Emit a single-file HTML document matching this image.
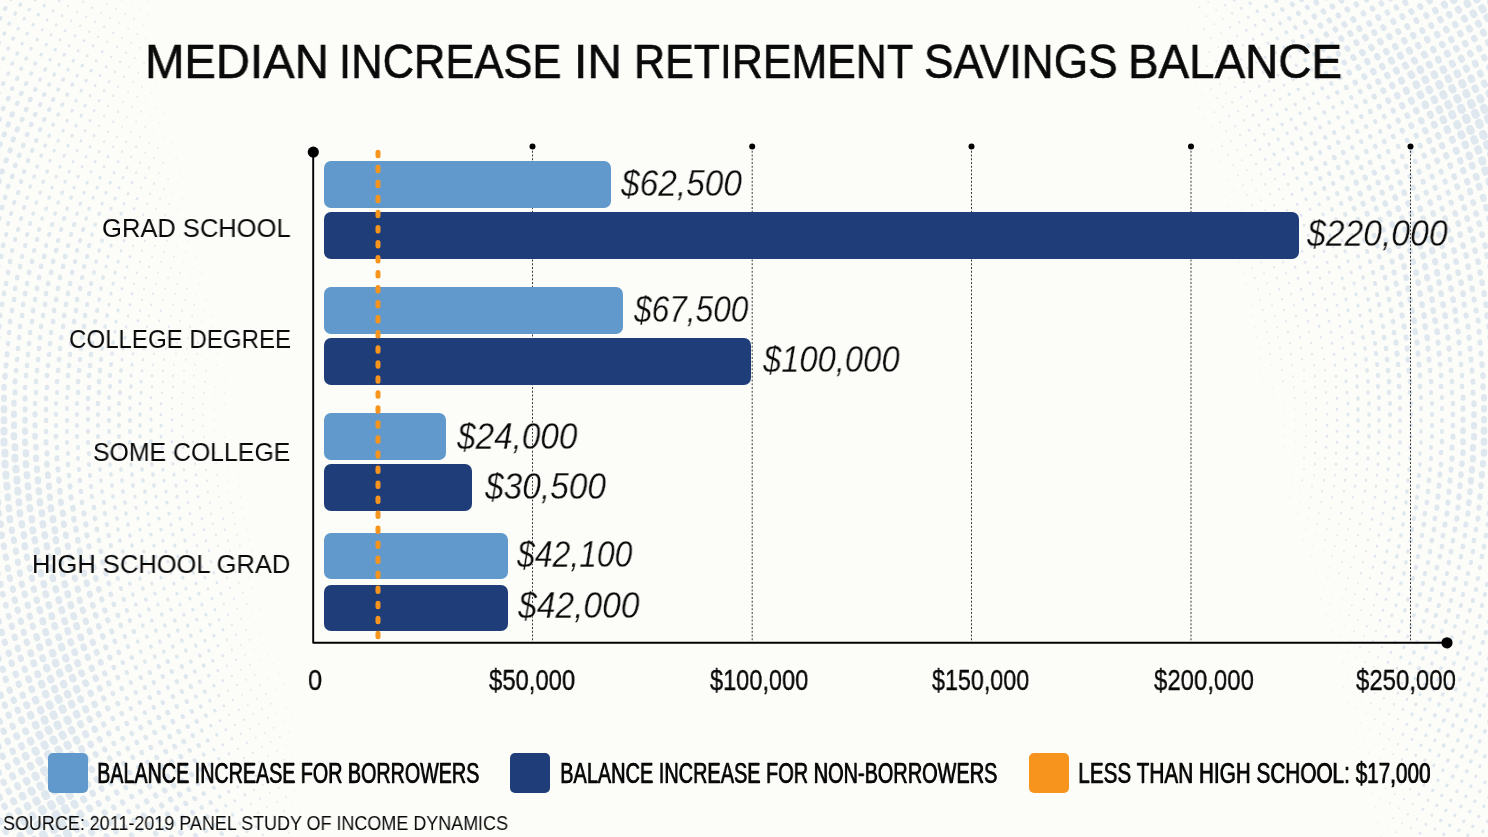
<!DOCTYPE html>
<html><head><meta charset="utf-8"><style>
*{margin:0;padding:0;box-sizing:border-box}
html,body{width:1488px;height:837px;overflow:hidden;background:#fcfcf9}
body{position:relative;font-family:"Liberation Sans",sans-serif;color:#0a0a0a}
.t{position:absolute;white-space:nowrap;line-height:1;transform-origin:0 0;will-change:transform}
.bar{position:absolute;border-radius:7px}
.l{background:#6199cd}
.d{background:#1f3e79}
.sq{position:absolute;width:40px;height:40px;border-radius:5px;top:753px}
</style></head>
<body>
<div id="bg"><svg width="1488" height="837" style="position:absolute;left:0;top:0"><g fill="none" stroke="#dfe7ef" stroke-linecap="round"><path stroke-width="1.0" d="M258 572l-0.1 -0.2M255 562l-0.1 -0.2M252 551l-0.1 -0.2M249 540l-0.1 -0.2M247 530l-0.1 -0.2M244 519l-0.0 -0.2M242 508l-0.0 -0.2M241 497l-0.0 -0.2M239 486l-0.0 -0.2M238 475l-0.0 -0.2M264 619l-0.1 -0.2M260 609l-0.1 -0.2M256 598l-0.1 -0.2M252 588l-0.1 -0.2M249 578l-0.1 -0.2M229 492l-0.0 -0.2M228 481l-0.0 -0.2M227 470l-0.0 -0.2M226 459l-0.0 -0.2M225 448l-0.0 -0.2M225 437l-0.0 -0.2M224 426l-0.0 -0.2M224 415l0.0 -0.2M225 404l0.0 -0.2M225 393l0.0 -0.2M226 382l0.0 -0.2M1228 231l0.1 0.2M1232 242l0.1 0.2M1236 252l0.1 0.2M1239 262l0.1 0.2M1243 273l0.1 0.2M1246 284l0.1 0.2M1248 294l0.1 0.2M1251 305l0.1 0.2M1253 316l0.1 0.2M1255 327l0.0 0.2M1257 337l0.0 0.2M1259 348l0.0 0.2M1260 359l0.0 0.2M1261 370l0.0 0.2M1262 381l0.0 0.2M284 684l-0.1 -0.2M279 674l-0.1 -0.2M273 664l-0.1 -0.2M268 654l-0.1 -0.2M264 644l-0.1 -0.2M259 634l-0.1 -0.2M255 624l-0.1 -0.2M251 614l-0.1 -0.2M214 442l-0.0 -0.2M214 431l-0.0 -0.2M214 420l-0.0 -0.2M214 409l0.0 -0.2M214 398l0.0 -0.2M215 387l0.0 -0.2M216 376l0.0 -0.2M217 365l0.0 -0.2M218 354l0.0 -0.2M219 343l0.0 -0.2M1224 196l0.1 0.2M1229 206l0.1 0.2M1233 216l0.1 0.2M1237 226l0.1 0.2M1241 236l0.1 0.2M1271 365l0.0 0.2M1272 376l0.0 0.2M1273 387l0.0 0.2M1274 398l0.0 0.2M1285 425l-0.0 0.2M1285 436l-0.0 0.2M1284 447l-0.0 0.2M292 717l-0.1 -0.2M286 708l-0.1 -0.2M280 698l-0.1 -0.2M275 689l-0.1 -0.2M269 679l-0.1 -0.2M264 670l-0.1 -0.2M259 660l-0.1 -0.2M254 650l-0.1 -0.2M207 360l0.0 -0.2M208 349l0.0 -0.2M210 338l0.0 -0.2M211 327l0.0 -0.2M213 316l0.0 -0.2M1208 142l0.1 0.2M1213 151l0.1 0.2M1219 161l0.1 0.2M1224 170l0.1 0.2M1229 180l0.1 0.2M1234 190l0.1 0.2M1238 200l0.1 0.2M1242 210l0.1 0.2M1284 392l0.0 0.2M1284 403l0.0 0.2M1285 414l0.0 0.2M1295 420l-0.0 0.2M1295 431l-0.0 0.2M1295 442l-0.0 0.2M1294 453l-0.0 0.2M1293 464l-0.0 0.2M1293 475l-0.0 0.2M1291 486l-0.0 0.2M1290 497l-0.0 0.2M296 741l-0.1 -0.2M289 732l-0.1 -0.2M283 722l-0.1 -0.2M277 713l-0.1 -0.2M202 321l0.0 -0.2M204 311l0.0 -0.2M206 300l0.1 -0.2M1199 108l0.1 0.2M1205 118l0.1 0.2M1211 127l0.1 0.2M1217 136l0.1 0.2M1295 409l0.0 0.2M1301 491l-0.0 0.2M1300 502l-0.0 0.2M1298 513l-0.0 0.2M300 764l-0.2 -0.2M293 755l-0.1 -0.2M286 746l-0.1 -0.2M196 294l0.1 -0.2M199 284l0.1 -0.2M202 273l0.1 -0.2M1195 85l0.1 0.2M1202 94l0.1 0.2M1208 103l0.1 0.2M1308 519l-0.0 0.2M1306 529l-0.0 0.2M1303 540l-0.1 0.2M297 778l-0.2 -0.2M290 769l-0.2 -0.2M190 278l0.1 -0.2M192 268l0.1 -0.2M195 257l0.1 -0.2M1191 62l0.2 0.2M1198 71l0.2 0.2M1204 80l0.1 0.2M1315 535l-0.0 0.2M1313 546l-0.1 0.2M1311 556l-0.1 0.2M302 800l-0.2 -0.2M295 791l-0.2 -0.2M288 783l-0.2 -0.2M183 262l0.1 -0.2M186 252l0.1 -0.2M189 241l0.1 -0.2M1186 40l0.2 0.2M1193 49l0.2 0.2M1200 57l0.2 0.2M1323 551l-0.1 0.2M1320 562l-0.1 0.2M1317 573l-0.1 0.2M300 813l-0.2 -0.2M293 805l-0.2 -0.2M177 246l0.1 -0.2M180 236l0.1 -0.2M184 225l0.1 -0.2M1181 18l0.2 0.2M1188 27l0.2 0.2M1195 35l0.2 0.2M1202 43l0.2 0.2M1330 567l-0.1 0.2M1327 578l-0.1 0.2M1324 589l-0.1 0.2M1321 599l-0.1 0.2M306 835l-0.2 -0.2M298 827l-0.2 -0.2M291 819l-0.2 -0.2M171 230l0.1 -0.2M174 220l0.1 -0.2M178 210l0.1 -0.2M182 199l0.1 -0.2M1175 -3l0.2 0.2M1182 5l0.2 0.2M1190 13l0.2 0.2M1197 21l0.2 0.2M1336 583l-0.1 0.2M1333 594l-0.1 0.2M1330 604l-0.1 0.2M1326 615l-0.1 0.2M296 841l-0.2 -0.2M173 194l0.1 -0.2M177 184l0.1 -0.2M181 174l0.1 -0.2M1192 -1l0.2 0.2M1342 599l-0.1 0.2M1339 610l-0.1 0.2M1336 620l-0.1 0.2M1332 631l-0.1 0.2M172 168l0.1 -0.2M177 158l0.1 -0.2M1345 626l-0.1 0.2M1341 636l-0.1 0.2M1338 646l-0.1 0.2M168 153l0.1 -0.2M172 143l0.1 -0.2M1351 641l-0.1 0.2M1347 652l-0.1 0.2M1343 662l-0.1 0.2M163 138l0.1 -0.2M168 128l0.1 -0.2M1356 657l-0.1 0.2M1352 667l-0.1 0.2M1348 677l-0.1 0.2M1343 687l-0.1 0.2M154 133l0.1 -0.2M159 123l0.1 -0.2M164 113l0.1 -0.2M1357 683l-0.1 0.2M1352 693l-0.1 0.2M1348 703l-0.1 0.2M150 117l0.1 -0.2M155 108l0.1 -0.2M160 98l0.1 -0.2M1362 698l-0.1 0.2M1357 708l-0.1 0.2M1352 718l-0.1 0.2M146 102l0.1 -0.2M151 93l0.1 -0.2M157 83l0.1 -0.2M1366 713l-0.1 0.2M1361 723l-0.1 0.2M1356 733l-0.1 0.2M147 78l0.1 -0.2M153 68l0.1 -0.2M159 59l0.1 -0.2M1370 729l-0.1 0.2M1365 738l-0.1 0.2M1360 748l-0.1 0.2M150 54l0.1 -0.2M155 44l0.1 -0.2M1375 744l-0.1 0.2M1369 753l-0.1 0.2M1364 763l-0.1 0.2M146 39l0.1 -0.2M152 30l0.1 -0.2M1379 759l-0.1 0.2M1373 768l-0.1 0.2M1368 778l-0.1 0.2M143 25l0.1 -0.2M149 15l0.1 -0.2M1382 774l-0.1 0.2M1377 783l-0.1 0.2M1371 793l-0.1 0.2M140 10l0.1 -0.2M147 1l0.1 -0.2M1380 798l-0.1 0.2M1375 807l-0.1 0.2M131 5l0.1 -0.2M137 -4l0.1 -0.2M1384 813l-0.1 0.2M1378 822l-0.1 0.2M1387 827l-0.1 0.2M1381 837l-0.1 0.2M1390 842l-0.1 0.2"/><path stroke-width="1.5" d="M245 567l-0.1 -0.4M242 556l-0.1 -0.4M240 546l-0.1 -0.4M237 535l-0.1 -0.4M235 524l-0.1 -0.4M233 513l-0.1 -0.4M231 503l-0.1 -0.4M247 604l-0.1 -0.4M243 593l-0.1 -0.4M239 583l-0.1 -0.4M236 572l-0.1 -0.4M233 562l-0.1 -0.4M230 551l-0.1 -0.4M221 508l-0.1 -0.4M219 497l-0.1 -0.4M218 486l-0.0 -0.4M217 475l-0.0 -0.4M216 464l-0.0 -0.4M215 453l-0.0 -0.4M1245 247l0.1 0.4M1249 257l0.1 0.4M1252 268l0.1 0.4M1255 278l0.1 0.4M1258 289l0.1 0.4M1260 300l0.1 0.4M1263 310l0.1 0.4M1265 321l0.1 0.4M1267 332l0.1 0.4M1269 343l0.1 0.4M1270 354l0.0 0.4M250 640l-0.2 -0.3M246 630l-0.1 -0.3M241 619l-0.1 -0.3M237 609l-0.1 -0.4M205 459l-0.0 -0.4M204 448l-0.0 -0.4M204 437l-0.0 -0.4M203 426l-0.0 -0.4M203 415l0.0 -0.4M203 404l0.0 -0.4M204 393l0.0 -0.4M205 382l0.0 -0.4M206 371l0.0 -0.4M1247 221l0.1 0.3M1251 231l0.1 0.4M1254 241l0.1 0.4M1258 252l0.1 0.4M1261 262l0.1 0.4M1264 273l0.1 0.4M1267 283l0.1 0.4M1270 294l0.1 0.4M1272 305l0.1 0.4M1275 316l0.1 0.4M1277 327l0.1 0.4M1278 337l0.1 0.4M1280 348l0.0 0.4M1281 359l0.0 0.4M1282 370l0.0 0.4M1283 381l0.0 0.4M271 704l-0.2 -0.3M266 694l-0.2 -0.3M260 685l-0.2 -0.3M255 675l-0.2 -0.3M250 665l-0.2 -0.3M245 655l-0.2 -0.3M241 645l-0.2 -0.3M193 431l-0.0 -0.4M193 420l-0.0 -0.4M193 409l0.0 -0.4M193 398l0.0 -0.4M194 387l0.0 -0.4M194 376l0.0 -0.4M195 365l0.0 -0.4M197 354l0.0 -0.4M198 343l0.1 -0.4M200 332l0.1 -0.4M1222 146l0.2 0.3M1228 155l0.2 0.3M1233 165l0.2 0.3M1238 175l0.2 0.3M1243 185l0.2 0.3M1247 195l0.2 0.3M1252 205l0.1 0.3M1256 215l0.1 0.3M1260 226l0.1 0.4M1264 236l0.1 0.4M1292 365l0.0 0.4M1293 376l0.0 0.4M1294 387l0.0 0.4M1295 398l0.0 0.4M1306 425l-0.0 0.4M1306 436l-0.0 0.4M1305 447l-0.0 0.4M1304 458l-0.0 0.4M1304 469l-0.0 0.4M1302 480l-0.0 0.4M280 737l-0.2 -0.3M274 728l-0.2 -0.3M268 718l-0.2 -0.3M262 709l-0.2 -0.3M257 699l-0.2 -0.3M251 690l-0.2 -0.3M246 680l-0.2 -0.3M241 670l-0.2 -0.3M182 404l0.0 -0.4M183 393l0.0 -0.4M184 382l0.0 -0.4M184 371l0.0 -0.4M186 360l0.0 -0.4M187 349l0.0 -0.4M188 338l0.1 -0.4M190 327l0.1 -0.4M192 316l0.1 -0.4M194 305l0.1 -0.4M1214 112l0.2 0.3M1220 122l0.2 0.3M1226 131l0.2 0.3M1231 141l0.2 0.3M1237 150l0.2 0.3M1242 160l0.2 0.3M1247 170l0.2 0.3M1252 180l0.2 0.3M1256 190l0.2 0.3M1261 200l0.1 0.3M1265 210l0.1 0.3M1304 370l0.0 0.4M1304 381l0.0 0.4M1305 392l0.0 0.4M1306 403l0.0 0.4M1306 414l0.0 0.4M1314 475l-0.0 0.4M1312 486l-0.0 0.4M1311 497l-0.1 0.4M1309 508l-0.1 0.4M284 760l-0.2 -0.3M277 751l-0.2 -0.3M271 742l-0.2 -0.3M265 733l-0.2 -0.3M259 724l-0.2 -0.3M253 714l-0.2 -0.3M248 705l-0.2 -0.3M242 695l-0.2 -0.3M174 365l0.0 -0.4M176 354l0.0 -0.4M177 343l0.1 -0.4M179 332l0.1 -0.4M180 321l0.1 -0.4M182 311l0.1 -0.4M185 300l0.1 -0.4M187 289l0.1 -0.4M1211 89l0.2 0.3M1217 98l0.2 0.3M1223 107l0.2 0.3M1321 502l-0.1 0.4M1319 513l-0.1 0.4M1317 524l-0.1 0.4M281 774l-0.2 -0.3M275 765l-0.2 -0.3M268 756l-0.2 -0.3M262 747l-0.2 -0.3M256 738l-0.2 -0.3M250 729l-0.2 -0.3M171 316l0.1 -0.4M173 305l0.1 -0.4M175 294l0.1 -0.4M177 284l0.1 -0.4M180 273l0.1 -0.4M1207 66l0.2 0.3M1213 75l0.2 0.3M1220 84l0.2 0.3M1226 93l0.2 0.3M1331 508l-0.1 0.4M1329 519l-0.1 0.4M1327 529l-0.1 0.4M1325 540l-0.1 0.4M286 797l-0.2 -0.3M279 788l-0.2 -0.3M272 779l-0.2 -0.3M265 771l-0.2 -0.3M259 762l-0.2 -0.3M163 300l0.1 -0.4M165 289l0.1 -0.4M168 278l0.1 -0.4M171 268l0.1 -0.4M174 257l0.1 -0.4M1209 52l0.2 0.3M1216 61l0.2 0.3M1223 69l0.2 0.3M1229 78l0.2 0.3M1339 524l-0.1 0.4M1337 535l-0.1 0.4M1335 546l-0.1 0.4M1332 556l-0.1 0.4M284 811l-0.2 -0.3M277 802l-0.2 -0.3M270 793l-0.2 -0.3M263 785l-0.2 -0.3M156 284l0.1 -0.4M158 273l0.1 -0.4M161 262l0.1 -0.4M164 252l0.1 -0.4M167 241l0.1 -0.4M1204 29l0.2 0.3M1211 38l0.2 0.3M1218 47l0.2 0.3M1225 55l0.2 0.3M1348 529l-0.1 0.4M1346 540l-0.1 0.4M1344 551l-0.1 0.4M1342 562l-0.1 0.4M1339 573l-0.1 0.4M289 833l-0.3 -0.3M282 824l-0.2 -0.3M274 816l-0.2 -0.3M267 807l-0.2 -0.3M152 257l0.1 -0.4M155 246l0.1 -0.4M158 236l0.1 -0.4M161 225l0.1 -0.4M165 215l0.1 -0.4M169 204l0.1 -0.4M1199 7l0.3 0.3M1206 16l0.2 0.3M1214 24l0.2 0.3M1221 33l0.2 0.3M1228 41l0.2 0.3M1354 557l-0.1 0.4M1351 567l-0.1 0.4M1348 578l-0.1 0.4M1346 589l-0.1 0.4M280 838l-0.3 -0.3M152 220l0.1 -0.4M156 209l0.1 -0.4M160 199l0.1 -0.4M164 189l0.1 -0.3M168 179l0.1 -0.3M1201 -6l0.3 0.3M1208 2l0.3 0.3M1216 10l0.2 0.3M1223 19l0.2 0.3M1358 583l-0.1 0.4M1355 594l-0.1 0.4M1352 605l-0.1 0.4M1349 615l-0.1 0.4M159 173l0.1 -0.3M163 163l0.2 -0.3M1361 610l-0.1 0.4M1358 620l-0.1 0.4M1354 631l-0.1 0.4M154 158l0.2 -0.3M158 148l0.2 -0.3M1364 636l-0.1 0.4M1360 647l-0.1 0.4M145 153l0.2 -0.3M149 143l0.2 -0.3M1369 652l-0.1 0.4M1365 662l-0.1 0.3M1361 672l-0.1 0.3M140 137l0.2 -0.3M145 127l0.2 -0.3M1374 667l-0.1 0.3M1370 678l-0.1 0.3M1366 688l-0.1 0.3M131 132l0.2 -0.3M136 122l0.2 -0.3M141 112l0.2 -0.3M1375 693l-0.1 0.3M1371 703l-0.2 0.3M122 127l0.2 -0.3M127 117l0.2 -0.3M132 107l0.2 -0.3M137 97l0.2 -0.3M142 87l0.2 -0.3M1380 709l-0.2 0.3M1375 719l-0.2 0.3M123 102l0.2 -0.3M128 92l0.2 -0.3M133 82l0.2 -0.3M138 73l0.2 -0.3M144 63l0.2 -0.3M1384 724l-0.2 0.3M1380 734l-0.2 0.3M129 67l0.2 -0.3M135 58l0.2 -0.3M140 48l0.2 -0.3M1389 739l-0.2 0.3M1384 749l-0.2 0.3M131 43l0.2 -0.3M137 34l0.2 -0.3M1393 754l-0.2 0.3M1388 764l-0.2 0.3M122 38l0.2 -0.3M128 29l0.2 -0.3M134 19l0.2 -0.3M1391 779l-0.2 0.3M1386 788l-0.2 0.3M119 23l0.2 -0.3M125 14l0.2 -0.3M1395 794l-0.2 0.3M1390 803l-0.2 0.3M110 18l0.2 -0.3M116 9l0.2 -0.3M122 -0l0.2 -0.3M1399 808l-0.2 0.3M1393 818l-0.2 0.3M101 13l0.2 -0.3M107 4l0.2 -0.3M113 -6l0.2 -0.3M1402 823l-0.2 0.3M1396 832l-0.2 0.3M98 -2l0.2 -0.3M1405 838l-0.2 0.3"/><path stroke-width="2.0" d="M228 541l-0.1 -0.5M225 530l-0.1 -0.5M223 519l-0.1 -0.5M234 599l-0.2 -0.5M230 588l-0.2 -0.5M227 578l-0.1 -0.5M224 567l-0.1 -0.5M221 557l-0.1 -0.5M218 546l-0.1 -0.5M216 535l-0.1 -0.5M213 524l-0.1 -0.5M211 514l-0.1 -0.5M210 503l-0.1 -0.5M208 492l-0.1 -0.5M207 481l-0.1 -0.5M206 470l-0.0 -0.5M236 635l-0.2 -0.5M232 625l-0.2 -0.5M228 615l-0.2 -0.5M224 604l-0.2 -0.5M195 464l-0.0 -0.5M194 453l-0.0 -0.5M193 442l-0.0 -0.5M1267 246l0.2 0.5M1271 257l0.1 0.5M1274 267l0.1 0.5M1277 278l0.1 0.5M1279 289l0.1 0.5M1282 299l0.1 0.5M1284 310l0.1 0.5M1286 321l0.1 0.5M1288 332l0.1 0.5M1290 343l0.1 0.5M1291 354l0.1 0.5M236 660l-0.2 -0.5M232 650l-0.2 -0.5M227 640l-0.2 -0.5M183 437l-0.0 -0.5M182 426l-0.0 -0.5M182 415l0.0 -0.5M1269 220l0.2 0.5M1273 231l0.2 0.5M1276 241l0.2 0.5M1280 251l0.1 0.5M1283 262l0.1 0.5M1286 273l0.1 0.5M1289 283l0.1 0.5M1291 294l0.1 0.5M1294 305l0.1 0.5M1296 316l0.1 0.5M1298 326l0.1 0.5M1300 337l0.1 0.5M1301 348l0.1 0.5M1302 359l0.1 0.5M1316 420l-0.0 0.5M1316 431l-0.0 0.5M1316 442l-0.0 0.5M1315 453l-0.0 0.5M1315 464l-0.0 0.5M237 685l-0.2 -0.4M232 676l-0.2 -0.4M227 666l-0.2 -0.5M172 409l0.0 -0.5M172 398l0.0 -0.5M173 387l0.0 -0.5M173 376l0.0 -0.5M1229 116l0.3 0.4M1235 126l0.3 0.4M1240 135l0.2 0.4M1246 145l0.2 0.4M1251 155l0.2 0.4M1256 164l0.2 0.4M1261 174l0.2 0.5M1265 184l0.2 0.5M1270 194l0.2 0.5M1274 205l0.2 0.5M1278 215l0.2 0.5M1282 225l0.2 0.5M1286 236l0.2 0.5M1289 246l0.2 0.5M1292 257l0.1 0.5M1309 332l0.1 0.5M1311 343l0.1 0.5M1312 354l0.1 0.5M1314 365l0.0 0.5M1315 376l0.0 0.5M1315 387l0.0 0.5M1316 398l0.0 0.5M1316 409l0.0 0.5M1325 458l-0.0 0.5M1325 469l-0.0 0.5M1324 480l-0.1 0.5M1322 491l-0.1 0.5M244 720l-0.3 -0.4M239 710l-0.2 -0.4M233 700l-0.2 -0.4M228 691l-0.2 -0.4M162 393l0.0 -0.5M163 382l0.0 -0.5M163 371l0.0 -0.5M164 360l0.1 -0.5M166 349l0.1 -0.5M167 338l0.1 -0.5M169 327l0.1 -0.5M1232 102l0.3 0.4M1238 111l0.3 0.4M1244 120l0.3 0.4M1275 179l0.2 0.5M1279 189l0.2 0.5M1283 199l0.2 0.5M1287 210l0.2 0.5M1291 220l0.2 0.5M1295 230l0.2 0.5M1321 337l0.1 0.5M1322 348l0.1 0.5M1324 359l0.1 0.5M1325 370l0.0 0.5M1325 381l0.0 0.5M1326 392l0.0 0.5M1327 403l0.0 0.5M1327 414l0.0 0.5M1335 475l-0.0 0.5M1334 486l-0.1 0.5M1332 497l-0.1 0.5M253 753l-0.3 -0.4M247 743l-0.3 -0.4M241 734l-0.3 -0.4M235 725l-0.3 -0.4M229 715l-0.2 -0.4M153 365l0.0 -0.5M154 354l0.1 -0.5M156 343l0.1 -0.5M157 332l0.1 -0.5M159 321l0.1 -0.5M161 311l0.1 -0.5M1235 87l0.3 0.4M1241 97l0.3 0.4M1247 106l0.3 0.4M1344 491l-0.1 0.5M1342 502l-0.1 0.5M1341 513l-0.1 0.5M256 776l-0.3 -0.4M250 767l-0.3 -0.4M244 758l-0.3 -0.4M238 749l-0.3 -0.4M146 338l0.1 -0.5M147 327l0.1 -0.5M149 316l0.1 -0.5M151 305l0.1 -0.5M153 294l0.1 -0.5M1232 64l0.3 0.4M1238 73l0.3 0.4M1244 82l0.3 0.4M1250 91l0.3 0.4M1353 497l-0.1 0.5M1352 508l-0.1 0.5M1350 519l-0.1 0.5M260 799l-0.3 -0.4M254 790l-0.3 -0.4M247 781l-0.3 -0.4M241 772l-0.3 -0.4M140 311l0.1 -0.5M142 300l0.1 -0.5M144 289l0.1 -0.5M146 278l0.1 -0.5M149 267l0.1 -0.5M1234 50l0.3 0.4M1241 59l0.3 0.4M1247 68l0.3 0.4M1253 77l0.3 0.4M1363 502l-0.1 0.5M1362 513l-0.1 0.5M1360 524l-0.1 0.5M1358 535l-0.1 0.5M1356 546l-0.1 0.5M272 830l-0.3 -0.4M265 821l-0.3 -0.4M258 813l-0.3 -0.4M251 804l-0.3 -0.4M134 284l0.1 -0.5M137 273l0.1 -0.5M140 262l0.1 -0.5M142 251l0.1 -0.5M145 241l0.1 -0.5M149 230l0.2 -0.5M1230 27l0.3 0.4M1237 36l0.3 0.4M1243 45l0.3 0.4M1250 53l0.3 0.4M1256 62l0.3 0.4M1370 529l-0.1 0.5M1368 540l-0.1 0.5M1366 551l-0.1 0.5M1363 562l-0.1 0.5M1361 573l-0.1 0.5M263 835l-0.3 -0.4M133 246l0.1 -0.5M136 236l0.1 -0.5M139 225l0.2 -0.5M143 215l0.2 -0.5M147 204l0.2 -0.5M150 194l0.2 -0.5M154 184l0.2 -0.5M1218 -3l0.3 0.4M1225 5l0.3 0.4M1232 13l0.3 0.4M1239 22l0.3 0.4M1370 578l-0.1 0.5M1367 589l-0.1 0.5M1364 599l-0.1 0.5M141 188l0.2 -0.5M145 178l0.2 -0.5M149 168l0.2 -0.5M1374 605l-0.1 0.5M1371 615l-0.1 0.5M1367 626l-0.2 0.5M136 173l0.2 -0.5M140 163l0.2 -0.5M1376 631l-0.2 0.5M1373 641l-0.2 0.5M131 157l0.2 -0.5M136 147l0.2 -0.5M1382 647l-0.2 0.5M1378 657l-0.2 0.5M122 152l0.2 -0.5M126 142l0.2 -0.5M1384 673l-0.2 0.5M1379 683l-0.2 0.5M113 147l0.2 -0.5M117 137l0.2 -0.5M1389 688l-0.2 0.5M1384 698l-0.2 0.5M104 142l0.2 -0.5M108 132l0.2 -0.5M113 122l0.2 -0.5M118 112l0.2 -0.4M1394 704l-0.2 0.5M1389 714l-0.2 0.5M99 126l0.2 -0.5M104 116l0.2 -0.5M108 106l0.2 -0.4M113 96l0.2 -0.4M118 87l0.2 -0.4M124 77l0.2 -0.4M1398 719l-0.2 0.5M1393 729l-0.2 0.5M115 72l0.2 -0.4M120 62l0.2 -0.4M126 53l0.3 -0.4M1398 744l-0.2 0.4M111 57l0.2 -0.4M117 47l0.3 -0.4M1402 759l-0.2 0.4M1397 769l-0.2 0.4M107 42l0.3 -0.4M113 33l0.3 -0.4M1406 774l-0.2 0.4M1401 784l-0.2 0.4M98 37l0.3 -0.4M104 27l0.3 -0.4M1410 789l-0.2 0.4M1404 799l-0.2 0.4M89 32l0.3 -0.4M95 22l0.3 -0.4M1413 804l-0.2 0.4M1408 814l-0.3 0.4M80 26l0.3 -0.4M86 17l0.3 -0.4M92 8l0.3 -0.4M1417 819l-0.3 0.4M1411 828l-0.3 0.4M71 21l0.3 -0.4M77 12l0.3 -0.4M83 2l0.3 -0.4M68 6l0.3 -0.4M73 -3l0.3 -0.4"/><path stroke-width="2.5" d="M221 594l-0.2 -0.6M217 583l-0.2 -0.6M214 573l-0.2 -0.6M211 562l-0.2 -0.6M209 551l-0.1 -0.6M206 541l-0.1 -0.6M204 530l-0.1 -0.6M202 519l-0.1 -0.6M200 508l-0.1 -0.6M198 497l-0.1 -0.6M197 486l-0.1 -0.6M196 475l-0.1 -0.6M223 630l-0.2 -0.6M219 620l-0.2 -0.6M215 610l-0.2 -0.6M212 599l-0.2 -0.6M208 589l-0.2 -0.6M205 578l-0.2 -0.6M202 567l-0.2 -0.6M199 557l-0.2 -0.6M197 546l-0.1 -0.6M194 535l-0.1 -0.6M192 524l-0.1 -0.6M190 514l-0.1 -0.6M188 503l-0.1 -0.6M187 492l-0.1 -0.6M186 481l-0.1 -0.6M184 470l-0.1 -0.6M184 459l-0.0 -0.6M183 448l-0.0 -0.6M223 656l-0.3 -0.6M218 646l-0.2 -0.6M172 442l-0.0 -0.6M172 431l-0.0 -0.6M172 420l-0.0 -0.6M1295 267l0.2 0.6M1298 278l0.2 0.6M1301 289l0.1 0.6M1303 299l0.1 0.6M1306 310l0.1 0.6M1308 321l0.1 0.6M1327 425l-0.0 0.6M1327 436l-0.0 0.6M1326 447l-0.0 0.6M223 681l-0.3 -0.6M218 671l-0.3 -0.6M161 415l0.0 -0.6M161 404l0.0 -0.6M1249 130l0.3 0.5M1255 140l0.3 0.5M1260 149l0.3 0.6M1265 159l0.3 0.6M1270 169l0.3 0.6M1298 241l0.2 0.6M1302 251l0.2 0.6M1305 262l0.2 0.6M1308 272l0.2 0.6M1310 283l0.1 0.6M1313 294l0.1 0.6M1315 305l0.1 0.6M1317 315l0.1 0.6M1319 326l0.1 0.6M1337 420l-0.0 0.6M1337 431l-0.0 0.6M1337 442l-0.0 0.6M1336 453l-0.0 0.6M1336 464l-0.0 0.6M224 706l-0.3 -0.5M219 696l-0.3 -0.6M151 398l0.0 -0.6M152 387l0.0 -0.6M152 376l0.0 -0.6M1253 115l0.3 0.5M1259 125l0.3 0.5M1264 134l0.3 0.5M1284 174l0.3 0.6M1288 184l0.2 0.6M1292 194l0.2 0.6M1297 204l0.2 0.6M1301 215l0.2 0.6M1304 225l0.2 0.6M1308 235l0.2 0.6M1311 246l0.2 0.6M1314 256l0.2 0.6M1317 267l0.2 0.6M1320 278l0.1 0.6M1322 288l0.1 0.6M1325 299l0.1 0.6M1327 310l0.1 0.6M1329 321l0.1 0.6M1331 332l0.1 0.6M1332 343l0.1 0.6M1334 354l0.1 0.6M1335 365l0.1 0.6M1336 376l0.0 0.6M1336 387l0.0 0.6M1337 398l0.0 0.6M1337 409l0.0 0.6M1347 458l-0.0 0.6M1346 469l-0.1 0.6M1345 480l-0.1 0.6M232 739l-0.3 -0.5M226 730l-0.3 -0.5M220 721l-0.3 -0.5M142 371l0.1 -0.6M143 360l0.1 -0.6M144 349l0.1 -0.6M1256 101l0.3 0.5M1262 110l0.3 0.5M1268 119l0.3 0.5M1310 209l0.2 0.6M1314 220l0.2 0.6M1317 230l0.2 0.6M1320 240l0.2 0.6M1324 251l0.2 0.6M1327 262l0.2 0.6M1329 272l0.2 0.6M1332 283l0.1 0.6M1334 294l0.1 0.6M1337 305l0.1 0.6M1339 315l0.1 0.6M1340 326l0.1 0.6M1342 337l0.1 0.6M1343 348l0.1 0.6M1345 359l0.1 0.6M1346 370l0.1 0.6M1357 464l-0.0 0.6M1356 475l-0.1 0.6M1355 486l-0.1 0.6M235 763l-0.3 -0.5M229 754l-0.3 -0.5M223 745l-0.3 -0.5M133 354l0.1 -0.6M135 343l0.1 -0.6M136 332l0.1 -0.6M138 321l0.1 -0.6M1259 86l0.3 0.5M1265 95l0.3 0.5M1271 105l0.3 0.5M1367 469l-0.0 0.6M1366 480l-0.1 0.6M1365 491l-0.1 0.6M245 795l-0.4 -0.5M238 787l-0.4 -0.5M232 778l-0.4 -0.5M225 768l-0.3 -0.5M126 327l0.1 -0.6M128 316l0.1 -0.6M130 305l0.1 -0.6M132 294l0.1 -0.6M1263 72l0.3 0.5M1269 81l0.3 0.5M1274 90l0.3 0.5M1280 99l0.3 0.5M1377 475l-0.1 0.6M1376 486l-0.1 0.6M1375 497l-0.1 0.6M1373 508l-0.1 0.6M1372 519l-0.1 0.6M256 827l-0.4 -0.5M249 818l-0.4 -0.5M242 810l-0.4 -0.5M235 801l-0.4 -0.5M120 300l0.1 -0.6M122 289l0.1 -0.6M125 278l0.1 -0.6M127 267l0.2 -0.6M130 257l0.2 -0.6M1246 30l0.4 0.5M1253 39l0.4 0.5M1259 48l0.4 0.5M1265 57l0.4 0.5M1272 66l0.3 0.5M1278 75l0.3 0.5M1284 85l0.3 0.5M1387 480l-0.1 0.6M1386 491l-0.1 0.6M1385 502l-0.1 0.6M1383 513l-0.1 0.6M1381 524l-0.1 0.6M1379 535l-0.1 0.6M1377 546l-0.1 0.6M1375 556l-0.1 0.6M1373 567l-0.1 0.6M254 840l-0.4 -0.5M247 832l-0.4 -0.5M121 251l0.2 -0.6M124 241l0.2 -0.6M127 230l0.2 -0.6M130 220l0.2 -0.6M134 209l0.2 -0.6M137 199l0.2 -0.6M1234 -0l0.4 0.5M1241 8l0.4 0.5M1248 17l0.4 0.5M1255 25l0.4 0.5M1262 34l0.4 0.5M1382 573l-0.1 0.6M1380 583l-0.2 0.6M1377 594l-0.2 0.6M124 204l0.2 -0.6M128 194l0.2 -0.6M132 183l0.2 -0.6M1243 -6l0.4 0.5M1386 599l-0.2 0.6M1383 610l-0.2 0.6M1380 620l-0.2 0.6M119 188l0.2 -0.6M123 178l0.2 -0.6M127 168l0.2 -0.6M1389 626l-0.2 0.6M1386 636l-0.2 0.6M114 173l0.2 -0.6M118 162l0.2 -0.6M1391 652l-0.2 0.6M1388 662l-0.2 0.6M104 167l0.2 -0.6M108 157l0.2 -0.6M1397 668l-0.2 0.6M1393 678l-0.2 0.6M91 172l0.2 -0.6M95 162l0.2 -0.6M99 152l0.2 -0.6M1402 683l-0.2 0.6M1398 693l-0.2 0.6M82 167l0.2 -0.6M86 157l0.2 -0.6M90 147l0.2 -0.6M94 136l0.3 -0.6M1407 699l-0.2 0.6M1403 709l-0.3 0.6M73 162l0.2 -0.6M77 151l0.2 -0.6M81 141l0.2 -0.6M85 131l0.3 -0.6M90 121l0.3 -0.6M94 111l0.3 -0.6M99 101l0.3 -0.6M104 91l0.3 -0.6M109 82l0.3 -0.6M1407 724l-0.3 0.6M1403 734l-0.3 0.6M90 96l0.3 -0.6M95 86l0.3 -0.6M100 76l0.3 -0.6M106 67l0.3 -0.5M1412 739l-0.3 0.6M1407 749l-0.3 0.6M96 61l0.3 -0.5M102 52l0.3 -0.5M1416 755l-0.3 0.6M1411 764l-0.3 0.6M87 56l0.3 -0.5M93 46l0.3 -0.5M1420 770l-0.3 0.6M1415 779l-0.3 0.6M78 51l0.3 -0.5M84 41l0.3 -0.5M1424 785l-0.3 0.6M1419 794l-0.3 0.5M69 46l0.3 -0.5M75 36l0.3 -0.5M1428 800l-0.3 0.5M1423 809l-0.3 0.5M60 40l0.3 -0.5M65 31l0.3 -0.5M1432 815l-0.3 0.5M1426 824l-0.3 0.5M1420 833l-0.3 0.5M51 35l0.3 -0.5M56 25l0.3 -0.5M62 16l0.3 -0.5M1435 829l-0.3 0.5M1429 839l-0.3 0.5M42 30l0.3 -0.5M47 20l0.3 -0.5M53 11l0.3 -0.5M59 1l0.3 -0.5M49 -4l0.3 -0.5"/><path stroke-width="3.0" d="M214 636l-0.3 -0.7M210 625l-0.3 -0.7M206 615l-0.3 -0.7M202 605l-0.2 -0.7M199 594l-0.2 -0.7M196 584l-0.2 -0.7M193 573l-0.2 -0.7M190 562l-0.2 -0.7M187 552l-0.2 -0.7M185 541l-0.2 -0.7M182 530l-0.1 -0.7M180 519l-0.1 -0.7M179 508l-0.1 -0.7M177 497l-0.1 -0.7M176 486l-0.1 -0.7M174 475l-0.1 -0.7M173 464l-0.1 -0.7M173 453l-0.0 -0.7M213 661l-0.3 -0.7M209 651l-0.3 -0.7M205 641l-0.3 -0.7M201 631l-0.3 -0.7M197 620l-0.3 -0.7M193 610l-0.2 -0.7M190 599l-0.2 -0.7M186 589l-0.2 -0.7M183 578l-0.2 -0.7M180 568l-0.2 -0.7M178 557l-0.2 -0.7M175 546l-0.2 -0.7M173 535l-0.1 -0.7M171 525l-0.1 -0.7M169 514l-0.1 -0.7M167 503l-0.1 -0.7M166 492l-0.1 -0.7M164 481l-0.1 -0.7M163 470l-0.1 -0.7M163 459l-0.0 -0.7M162 448l-0.0 -0.7M161 437l-0.0 -0.7M161 426l-0.0 -0.7M214 686l-0.3 -0.7M209 676l-0.3 -0.7M184 615l-0.2 -0.7M180 605l-0.2 -0.7M177 594l-0.2 -0.7M174 584l-0.2 -0.7M171 573l-0.2 -0.7M168 562l-0.2 -0.7M166 552l-0.2 -0.7M163 541l-0.2 -0.7M161 530l-0.1 -0.7M159 519l-0.1 -0.7M157 508l-0.1 -0.7M156 497l-0.1 -0.7M151 420l-0.0 -0.8M151 409l0.0 -0.7M1269 144l0.3 0.7M1274 154l0.3 0.7M1279 164l0.3 0.7M1348 425l-0.0 0.7M1348 436l-0.0 0.7M1347 447l-0.0 0.7M215 711l-0.4 -0.7M210 701l-0.3 -0.7M171 610l-0.2 -0.7M168 600l-0.2 -0.7M164 589l-0.2 -0.7M161 578l-0.2 -0.7M159 568l-0.2 -0.7M156 557l-0.2 -0.7M154 546l-0.2 -0.7M151 535l-0.1 -0.7M149 525l-0.1 -0.7M148 514l-0.1 -0.7M146 503l-0.1 -0.7M140 404l0.0 -0.7M141 393l0.0 -0.7M141 382l0.0 -0.7M1273 129l0.4 0.7M1278 139l0.3 0.7M1283 149l0.3 0.7M1288 158l0.3 0.7M1293 168l0.3 0.7M1297 178l0.3 0.7M1302 189l0.3 0.7M1306 199l0.3 0.7M1346 381l0.0 0.7M1347 392l0.0 0.7M1348 403l0.0 0.7M1348 414l0.0 0.7M1358 431l-0.0 0.7M1358 442l-0.0 0.7M1357 453l-0.0 0.7M217 735l-0.4 -0.6M211 726l-0.4 -0.7M158 605l-0.2 -0.7M155 594l-0.2 -0.7M152 584l-0.2 -0.7M149 573l-0.2 -0.7M146 562l-0.2 -0.7M144 552l-0.2 -0.7M142 541l-0.1 -0.7M140 530l-0.1 -0.7M138 519l-0.1 -0.7M136 508l-0.1 -0.7M135 497l-0.1 -0.7M131 376l0.1 -0.7M132 365l0.1 -0.7M1277 114l0.4 0.7M1282 124l0.4 0.7M1287 133l0.3 0.7M1319 204l0.3 0.7M1323 214l0.3 0.7M1326 225l0.2 0.7M1330 235l0.2 0.7M1333 246l0.2 0.7M1336 256l0.2 0.7M1339 267l0.2 0.7M1342 278l0.2 0.7M1344 288l0.2 0.7M1346 299l0.1 0.7M1348 310l0.1 0.7M1350 321l0.1 0.7M1352 332l0.1 0.7M1353 343l0.1 0.7M1355 354l0.1 0.7M1356 365l0.1 0.7M1357 376l0.1 0.7M1368 447l-0.0 0.7M1368 458l-0.0 0.7M219 759l-0.4 -0.6M214 750l-0.4 -0.6M122 360l0.1 -0.7M123 349l0.1 -0.7M125 338l0.1 -0.7M1286 109l0.4 0.7M1291 119l0.4 0.7M1342 240l0.2 0.7M1345 251l0.2 0.7M1348 261l0.2 0.7M1351 272l0.2 0.7M1354 283l0.2 0.7M1356 294l0.2 0.7M1358 305l0.1 0.7M1360 315l0.1 0.7M1362 326l0.1 0.7M1379 442l-0.0 0.7M1378 453l-0.0 0.7M1378 464l-0.1 0.7M229 792l-0.4 -0.6M223 783l-0.4 -0.6M216 774l-0.4 -0.6M115 332l0.1 -0.7M116 322l0.1 -0.7M118 311l0.1 -0.7M1289 94l0.4 0.6M1295 104l0.4 0.7M1300 113l0.4 0.7M1389 447l-0.0 0.7M1389 458l-0.0 0.7M1388 469l-0.1 0.7M240 824l-0.5 -0.6M233 815l-0.5 -0.6M226 806l-0.4 -0.6M109 305l0.1 -0.7M111 294l0.1 -0.7M113 284l0.2 -0.7M115 273l0.2 -0.7M118 262l0.2 -0.7M1268 43l0.4 0.6M1275 52l0.4 0.6M1281 61l0.4 0.6M1287 70l0.4 0.6M1293 79l0.4 0.6M1298 89l0.4 0.6M1304 98l0.4 0.7M1309 108l0.4 0.7M1399 453l-0.0 0.7M1399 464l-0.1 0.7M1398 475l-0.1 0.7M1397 486l-0.1 0.7M1396 497l-0.1 0.7M1394 508l-0.1 0.7M1393 518l-0.1 0.7M1391 529l-0.1 0.7M1389 540l-0.1 0.7M1387 551l-0.2 0.7M1385 562l-0.2 0.7M238 837l-0.5 -0.6M106 267l0.2 -0.7M108 257l0.2 -0.7M111 246l0.2 -0.7M114 235l0.2 -0.7M117 225l0.2 -0.7M121 214l0.2 -0.7M1250 3l0.5 0.6M1257 11l0.5 0.6M1264 20l0.5 0.6M1271 29l0.4 0.6M1277 38l0.4 0.6M1284 47l0.4 0.6M1290 56l0.4 0.6M1296 65l0.4 0.6M1302 74l0.4 0.6M1307 84l0.4 0.6M1313 93l0.4 0.7M1318 103l0.4 0.7M1394 567l-0.2 0.7M1392 578l-0.2 0.7M1389 589l-0.2 0.7M108 220l0.2 -0.7M111 209l0.2 -0.7M115 199l0.2 -0.7M1399 594l-0.2 0.7M1396 605l-0.2 0.7M1392 615l-0.2 0.7M102 204l0.2 -0.7M106 193l0.3 -0.7M110 183l0.3 -0.7M1402 621l-0.2 0.7M1399 631l-0.2 0.7M1395 642l-0.2 0.7M93 198l0.2 -0.7M97 188l0.3 -0.7M100 178l0.3 -0.7M1408 636l-0.2 0.7M1404 647l-0.2 0.7M1401 657l-0.3 0.7M84 193l0.2 -0.7M87 183l0.3 -0.7M1410 663l-0.3 0.7M1406 673l-0.3 0.7M74 188l0.2 -0.7M78 177l0.3 -0.7M1415 678l-0.3 0.7M1411 689l-0.3 0.7M65 182l0.2 -0.7M69 172l0.3 -0.7M1420 694l-0.3 0.7M1416 704l-0.3 0.7M1412 714l-0.3 0.7M52 188l0.2 -0.7M56 177l0.2 -0.7M60 167l0.3 -0.7M64 156l0.3 -0.7M68 146l0.3 -0.7M72 136l0.3 -0.7M76 126l0.3 -0.7M81 116l0.3 -0.7M85 106l0.3 -0.7M1425 709l-0.3 0.7M1421 719l-0.3 0.7M1416 729l-0.3 0.7M50 161l0.3 -0.7M54 151l0.3 -0.7M58 141l0.3 -0.7M63 131l0.3 -0.7M67 121l0.3 -0.7M72 111l0.3 -0.7M76 101l0.3 -0.7M81 91l0.3 -0.7M86 81l0.3 -0.7M91 71l0.4 -0.7M1430 725l-0.3 0.7M1426 735l-0.3 0.7M1421 745l-0.3 0.7M77 76l0.3 -0.7M82 66l0.4 -0.7M1435 740l-0.3 0.7M1430 750l-0.3 0.7M1425 760l-0.3 0.7M68 70l0.3 -0.7M73 61l0.4 -0.7M1439 755l-0.3 0.7M1434 765l-0.3 0.7M1429 775l-0.3 0.7M59 65l0.3 -0.7M64 55l0.4 -0.7M1443 770l-0.3 0.7M1438 780l-0.3 0.7M1433 790l-0.4 0.7M50 60l0.3 -0.7M55 50l0.4 -0.7M1447 785l-0.3 0.7M1442 795l-0.4 0.7M1437 805l-0.4 0.7M41 55l0.3 -0.7M46 45l0.4 -0.7M1462 781l-0.3 0.7M1457 791l-0.3 0.7M1451 800l-0.4 0.7M1446 810l-0.4 0.7M1441 820l-0.4 0.7M31 49l0.3 -0.7M37 40l0.4 -0.7M1480 766l-0.3 0.7M1476 776l-0.3 0.7M1471 786l-0.3 0.7M1466 796l-0.3 0.7M1461 806l-0.4 0.7M1455 815l-0.4 0.7M1450 825l-0.4 0.7M1444 834l-0.4 0.6M22 44l0.3 -0.7M27 34l0.4 -0.7M33 25l0.4 -0.7M38 15l0.4 -0.7M44 6l0.4 -0.6M1485 782l-0.3 0.7M1480 791l-0.3 0.7M1475 801l-0.3 0.7M1470 811l-0.4 0.7M1464 821l-0.4 0.7M1459 830l-0.4 0.7M1453 840l-0.4 0.6M18 29l0.4 -0.7M24 19l0.4 -0.7M29 10l0.4 -0.7M35 0l0.4 -0.6M1489 797l-0.3 0.7M1484 806l-0.3 0.7M1479 816l-0.4 0.7M1473 826l-0.4 0.7M1468 835l-0.4 0.7M1493 812l-0.3 0.7M1488 821l-0.4 0.7M1483 831l-0.4 0.7M1477 841l-0.4 0.7M1492 836l-0.4 0.7"/><path stroke-width="3.5" d="M204 666l-0.4 -0.8M200 656l-0.3 -0.8M196 646l-0.3 -0.8M191 636l-0.3 -0.8M188 626l-0.3 -0.8M154 486l-0.1 -0.9M153 475l-0.1 -0.9M152 465l-0.1 -0.9M152 454l-0.0 -0.9M151 442l-0.0 -0.9M151 431l-0.0 -0.9M205 692l-0.4 -0.8M200 682l-0.4 -0.8M195 672l-0.4 -0.8M191 662l-0.3 -0.8M186 651l-0.3 -0.8M182 641l-0.3 -0.8M178 631l-0.3 -0.8M175 621l-0.3 -0.8M145 492l-0.1 -0.9M143 481l-0.1 -0.9M142 470l-0.1 -0.9M142 459l-0.1 -0.9M141 448l-0.0 -0.9M140 437l-0.0 -0.9M140 426l-0.0 -0.9M140 415l0.0 -0.9M1358 420l-0.0 0.9M206 716l-0.4 -0.8M201 707l-0.4 -0.8M196 697l-0.4 -0.8M177 657l-0.3 -0.8M173 647l-0.3 -0.8M169 636l-0.3 -0.8M165 626l-0.3 -0.8M162 615l-0.3 -0.8M133 486l-0.1 -0.9M132 475l-0.1 -0.9M131 465l-0.1 -0.9M131 454l-0.0 -0.9M130 409l0.0 -0.9M130 398l0.0 -0.9M131 387l0.0 -0.9M1292 143l0.4 0.8M1297 153l0.4 0.8M1302 163l0.4 0.8M1306 173l0.4 0.8M1311 183l0.3 0.8M1315 193l0.3 0.8M1357 386l0.0 0.9M1358 398l0.0 0.9M1358 409l0.0 0.9M1369 425l-0.0 0.9M1369 436l-0.0 0.9M208 741l-0.4 -0.8M202 731l-0.4 -0.8M164 652l-0.3 -0.8M160 642l-0.3 -0.8M156 631l-0.3 -0.8M152 621l-0.3 -0.8M149 610l-0.3 -0.8M146 600l-0.3 -0.8M143 589l-0.2 -0.8M140 579l-0.2 -0.8M137 568l-0.2 -0.9M134 557l-0.2 -0.9M132 546l-0.2 -0.9M130 536l-0.2 -0.9M128 525l-0.1 -0.9M126 514l-0.1 -0.9M125 503l-0.1 -0.9M123 492l-0.1 -0.9M122 481l-0.1 -0.9M121 470l-0.1 -0.9M120 459l-0.1 -0.9M120 382l0.1 -0.9M121 371l0.1 -0.9M1296 128l0.4 0.8M1301 138l0.4 0.8M1306 148l0.4 0.8M1328 198l0.3 0.8M1332 209l0.3 0.8M1336 219l0.3 0.8M1339 230l0.3 0.8M1363 337l0.1 0.9M1365 348l0.1 0.9M1366 359l0.1 0.9M1367 370l0.1 0.9M1368 381l0.1 0.9M1368 392l0.0 0.9M1369 403l0.0 0.9M1369 414l0.0 0.9M1379 420l-0.0 0.9M1379 431l-0.0 0.9M210 765l-0.5 -0.7M204 755l-0.5 -0.7M155 657l-0.3 -0.8M151 647l-0.3 -0.8M147 637l-0.3 -0.8M143 626l-0.3 -0.8M140 616l-0.3 -0.8M136 605l-0.3 -0.8M133 595l-0.2 -0.8M130 584l-0.2 -0.8M128 573l-0.2 -0.8M125 563l-0.2 -0.9M123 552l-0.2 -0.9M120 541l-0.2 -0.9M118 530l-0.2 -0.9M117 519l-0.1 -0.9M115 508l-0.1 -0.9M113 497l-0.1 -0.9M112 486l-0.1 -0.9M111 475l-0.1 -0.9M110 465l-0.1 -0.9M110 453l-0.0 -0.9M112 354l0.1 -0.9M113 343l0.1 -0.9M1305 123l0.4 0.8M1311 133l0.4 0.8M1352 235l0.3 0.8M1355 245l0.2 0.8M1358 256l0.2 0.8M1360 267l0.2 0.8M1363 277l0.2 0.9M1365 288l0.2 0.9M1368 299l0.2 0.9M1370 310l0.2 0.9M1371 321l0.1 0.9M1390 425l-0.0 0.9M1390 436l-0.0 0.9M220 797l-0.5 -0.7M214 788l-0.5 -0.7M207 779l-0.5 -0.7M145 662l-0.3 -0.8M141 652l-0.3 -0.8M138 642l-0.3 -0.8M102 492l-0.1 -0.9M101 481l-0.1 -0.9M100 470l-0.1 -0.9M99 459l-0.1 -0.9M105 327l0.1 -0.9M107 316l0.1 -0.9M1315 118l0.4 0.8M1320 127l0.4 0.8M1400 420l-0.0 0.9M1400 431l-0.0 0.9M1400 442l-0.0 0.9M231 829l-0.5 -0.7M224 820l-0.5 -0.7M217 811l-0.5 -0.7M99 300l0.2 -0.9M101 289l0.2 -0.9M103 278l0.2 -0.9M1324 112l0.4 0.8M1329 122l0.4 0.8M1411 425l-0.0 0.9M1411 436l-0.0 0.9M1410 447l-0.0 0.9M1410 458l-0.1 0.9M1409 469l-0.1 0.9M1408 480l-0.1 0.9M1407 491l-0.1 0.9M1406 502l-0.1 0.9M1404 513l-0.1 0.9M1403 524l-0.1 0.9M1401 535l-0.2 0.9M1399 546l-0.2 0.9M1397 556l-0.2 0.9M228 843l-0.6 -0.7M94 273l0.2 -0.9M96 262l0.2 -0.8M99 251l0.2 -0.8M102 241l0.2 -0.8M105 230l0.2 -0.8M1260 -3l0.6 0.7M1266 6l0.5 0.7M1273 14l0.5 0.7M1280 23l0.5 0.7M1286 32l0.5 0.7M1293 41l0.5 0.7M1299 50l0.5 0.7M1305 60l0.5 0.7M1311 69l0.5 0.7M1317 78l0.4 0.8M1322 88l0.4 0.8M1328 97l0.4 0.8M1333 107l0.4 0.8M1338 117l0.4 0.8M1343 127l0.4 0.8M1421 420l-0.0 0.9M1421 431l-0.0 0.9M1421 442l-0.0 0.9M1420 453l-0.0 0.9M1420 464l-0.1 0.9M1408 551l-0.2 0.9M1406 562l-0.2 0.9M1404 573l-0.2 0.9M1401 583l-0.2 0.8M92 235l0.2 -0.8M95 225l0.3 -0.8M99 214l0.3 -0.8M1342 102l0.4 0.8M1347 112l0.4 0.8M1411 589l-0.2 0.8M1408 599l-0.2 0.8M1405 610l-0.2 0.8M86 219l0.3 -0.8M89 209l0.3 -0.8M1417 605l-0.2 0.8M1414 615l-0.2 0.8M1411 626l-0.3 0.8M77 214l0.3 -0.8M80 204l0.3 -0.8M1424 621l-0.2 0.8M1421 631l-0.3 0.8M1417 642l-0.3 0.8M1414 652l-0.3 0.8M67 209l0.3 -0.8M71 198l0.3 -0.8M1433 626l-0.3 0.8M1430 637l-0.3 0.8M1426 647l-0.3 0.8M1423 658l-0.3 0.8M1419 668l-0.3 0.8M55 214l0.3 -0.8M58 203l0.3 -0.8M62 193l0.3 -0.8M1442 631l-0.3 0.8M1439 642l-0.3 0.8M1436 652l-0.3 0.8M1432 663l-0.3 0.8M1428 673l-0.3 0.8M1425 684l-0.3 0.8M42 219l0.2 -0.8M46 209l0.3 -0.8M49 198l0.3 -0.8M1455 626l-0.2 0.8M1452 637l-0.3 0.8M1448 647l-0.3 0.8M1445 658l-0.3 0.8M1441 668l-0.3 0.8M1438 679l-0.3 0.8M1434 689l-0.3 0.8M1430 699l-0.3 0.8M33 214l0.2 -0.8M36 203l0.3 -0.8M40 193l0.3 -0.8M43 182l0.3 -0.8M47 172l0.3 -0.8M1467 621l-0.2 0.8M1464 632l-0.2 0.8M1461 642l-0.3 0.8M1458 653l-0.3 0.8M1454 663l-0.3 0.8M1451 673l-0.3 0.8M1447 684l-0.3 0.8M1443 694l-0.3 0.8M1439 704l-0.3 0.8M1435 715l-0.3 0.8M27 198l0.3 -0.8M30 187l0.3 -0.8M34 177l0.3 -0.8M37 167l0.3 -0.8M41 156l0.3 -0.8M45 146l0.3 -0.8M49 136l0.3 -0.8M53 125l0.3 -0.8M58 115l0.4 -0.8M62 105l0.4 -0.8M67 95l0.4 -0.8M72 85l0.4 -0.8M1477 626l-0.2 0.8M1474 637l-0.2 0.8M1470 647l-0.3 0.8M1467 658l-0.3 0.8M1464 668l-0.3 0.8M1460 679l-0.3 0.8M1456 689l-0.3 0.8M1452 699l-0.3 0.8M1448 710l-0.3 0.8M1444 720l-0.3 0.8M1439 730l-0.4 0.8M58 90l0.4 -0.8M63 80l0.4 -0.8M1480 653l-0.3 0.8M1476 663l-0.3 0.8M1473 674l-0.3 0.8M1469 684l-0.3 0.8M1465 694l-0.3 0.8M1461 705l-0.3 0.8M1457 715l-0.3 0.8M1453 725l-0.3 0.8M1448 735l-0.4 0.8M1444 745l-0.4 0.8M49 85l0.4 -0.8M54 75l0.4 -0.8M1486 669l-0.3 0.8M1482 679l-0.3 0.8M1478 689l-0.3 0.8M1475 700l-0.3 0.8M1471 710l-0.3 0.8M1466 720l-0.3 0.8M1462 730l-0.3 0.8M1458 740l-0.4 0.8M1453 750l-0.4 0.8M1448 760l-0.4 0.8M40 80l0.4 -0.8M45 70l0.4 -0.8M1488 695l-0.3 0.8M1484 705l-0.3 0.8M1480 715l-0.3 0.8M1476 726l-0.3 0.8M1471 736l-0.3 0.8M1467 746l-0.4 0.8M1462 756l-0.4 0.8M1457 766l-0.4 0.8M1453 776l-0.4 0.8M31 74l0.4 -0.8M35 64l0.4 -0.8M1493 710l-0.3 0.8M1489 721l-0.3 0.8M1485 731l-0.3 0.8M1480 741l-0.4 0.8M1476 751l-0.4 0.8M1471 761l-0.4 0.8M1467 771l-0.4 0.8M21 69l0.4 -0.8M26 59l0.4 -0.8M1494 736l-0.3 0.8M1490 746l-0.4 0.8M1485 756l-0.4 0.8M8 74l0.4 -0.8M12 64l0.4 -0.8M17 54l0.4 -0.8M1494 762l-0.4 0.8M1490 772l-0.4 0.8M-2 68l0.4 -0.8M3 59l0.4 -0.8M8 49l0.4 -0.8M13 39l0.4 -0.8M1494 787l-0.4 0.8M-6 53l0.4 -0.8M-1 43l0.4 -0.8M4 34l0.4 -0.8M9 24l0.4 -0.8M15 14l0.4 -0.8M20 5l0.4 -0.8M25 -5l0.4 -0.8"/><path stroke-width="4.0" d="M191 687l-0.4 -0.9M186 677l-0.4 -0.9M182 667l-0.4 -0.9M130 443l-0.0 -1.0M130 432l-0.0 -1.0M130 421l-0.0 -1.0M197 722l-0.5 -0.9M192 712l-0.5 -0.9M187 702l-0.5 -0.9M182 692l-0.4 -0.9M177 682l-0.4 -0.9M172 672l-0.4 -0.9M168 662l-0.4 -0.9M120 448l-0.0 -1.0M119 437l-0.0 -1.0M119 426l-0.0 -1.0M119 415l0.0 -1.0M119 404l0.0 -1.0M120 393l0.0 -1.0M1311 158l0.4 0.9M1316 168l0.4 0.9M1320 178l0.4 0.9M1324 188l0.4 0.9M199 746l-0.5 -0.9M193 736l-0.5 -0.9M188 727l-0.5 -0.9M183 717l-0.5 -0.9M177 707l-0.5 -0.9M173 697l-0.4 -0.9M168 688l-0.4 -0.9M163 677l-0.4 -0.9M159 667l-0.4 -0.9M109 443l-0.0 -1.0M109 432l-0.0 -1.0M109 421l-0.0 -1.0M109 409l0.0 -1.0M109 398l0.0 -1.0M110 387l0.1 -1.0M110 376l0.1 -1.0M111 365l0.1 -1.0M1315 143l0.4 0.9M1320 152l0.4 0.9M1325 163l0.4 0.9M1329 173l0.4 0.9M1333 183l0.4 0.9M1337 193l0.4 0.9M1341 203l0.3 0.9M1345 214l0.3 0.9M1348 224l0.3 1.0M1373 332l0.1 1.0M1375 343l0.1 1.0M1376 353l0.1 1.0M1377 364l0.1 1.0M1378 375l0.1 1.0M1378 386l0.1 1.0M1379 397l0.0 1.0M1379 408l0.0 1.0M201 770l-0.5 -0.8M195 761l-0.5 -0.8M190 751l-0.5 -0.9M163 703l-0.4 -0.9M159 693l-0.4 -0.9M154 683l-0.4 -0.9M150 673l-0.4 -0.9M134 632l-0.3 -0.9M130 621l-0.3 -1.0M127 611l-0.3 -1.0M124 600l-0.3 -1.0M121 589l-0.3 -1.0M118 579l-0.2 -1.0M115 568l-0.2 -1.0M113 557l-0.2 -1.0M111 546l-0.2 -1.0M109 536l-0.2 -1.0M107 525l-0.2 -1.0M105 514l-0.1 -1.0M104 503l-0.1 -1.0M99 448l-0.0 -1.0M98 437l-0.0 -1.0M98 426l-0.0 -1.0M98 415l0.0 -1.0M101 360l0.1 -1.0M102 349l0.1 -1.0M103 338l0.1 -1.0M1325 137l0.4 0.9M1329 147l0.4 0.9M1364 240l0.3 1.0M1367 251l0.3 1.0M1370 261l0.2 1.0M1373 272l0.2 1.0M1375 283l0.2 1.0M1377 294l0.2 1.0M1379 304l0.2 1.0M1381 315l0.2 1.0M1383 326l0.1 1.0M1390 403l0.0 1.0M1390 414l0.0 1.0M211 803l-0.6 -0.8M204 794l-0.6 -0.8M198 784l-0.6 -0.8M154 708l-0.4 -0.9M150 698l-0.4 -0.9M145 688l-0.4 -0.9M141 678l-0.4 -0.9M136 668l-0.4 -0.9M132 658l-0.4 -0.9M128 647l-0.3 -0.9M125 637l-0.3 -0.9M92 497l-0.1 -1.0M91 487l-0.1 -1.0M90 476l-0.1 -1.0M89 465l-0.1 -1.0M89 454l-0.1 -1.0M88 443l-0.0 -1.0M88 432l-0.0 -1.0M88 420l0.0 -1.0M88 409l0.0 -1.0M94 333l0.1 -1.0M95 322l0.2 -1.0M97 311l0.2 -1.0M1334 132l0.4 0.9M1338 142l0.4 0.9M1400 397l0.0 1.0M1400 408l0.0 1.0M222 834l-0.6 -0.8M215 826l-0.6 -0.8M208 817l-0.6 -0.8M202 808l-0.6 -0.8M145 713l-0.4 -0.9M140 703l-0.4 -0.9M136 693l-0.4 -0.9M131 683l-0.4 -0.9M127 673l-0.4 -0.9M123 663l-0.4 -0.9M79 470l-0.1 -1.0M78 459l-0.1 -1.0M78 448l-0.0 -1.0M77 437l-0.0 -1.0M77 426l-0.0 -1.0M77 415l0.0 -1.0M77 404l0.0 -1.0M87 305l0.2 -1.0M89 294l0.2 -1.0M91 284l0.2 -1.0M1348 137l0.4 0.9M1352 147l0.4 0.9M1411 403l0.0 1.0M1411 414l0.0 1.0M1419 475l-0.1 1.0M1418 486l-0.1 1.0M1417 497l-0.1 1.0M1416 507l-0.1 1.0M1414 518l-0.1 1.0M1412 529l-0.2 1.0M1411 540l-0.2 1.0M212 840l-0.6 -0.8M136 719l-0.4 -0.9M131 709l-0.4 -0.9M127 699l-0.4 -0.9M68 454l-0.0 -1.0M67 443l-0.0 -1.0M67 432l-0.0 -1.0M67 421l-0.0 -1.0M67 409l0.0 -1.0M67 398l0.0 -1.0M82 278l0.2 -1.0M84 267l0.2 -1.0M87 257l0.2 -1.0M89 246l0.3 -1.0M1276 0l0.6 0.8M1282 9l0.6 0.8M1289 18l0.6 0.8M1295 27l0.6 0.8M1302 36l0.6 0.8M1308 45l0.6 0.8M1314 54l0.5 0.8M1320 64l0.5 0.9M1326 73l0.5 0.9M1331 83l0.5 0.9M1337 92l0.5 0.9M1352 121l0.4 0.9M1357 131l0.4 0.9M1361 141l0.4 0.9M1421 397l0.0 1.0M1421 408l0.0 1.0M1432 425l-0.0 1.0M1432 436l-0.0 1.0M1431 447l-0.0 1.0M1431 458l-0.1 1.0M1430 469l-0.1 1.0M1422 535l-0.2 1.0M1420 546l-0.2 1.0M1418 556l-0.2 1.0M1416 567l-0.2 1.0M1413 578l-0.2 1.0M56 426l-0.0 -1.0M56 415l0.0 -1.0M56 404l0.0 -1.0M57 393l0.0 -1.0M75 262l0.2 -1.0M77 251l0.2 -1.0M80 241l0.3 -1.0M83 230l0.3 -1.0M1285 -5l0.6 0.8M1351 97l0.5 0.9M1356 106l0.5 0.9M1361 116l0.4 0.9M1366 126l0.4 0.9M1370 136l0.4 0.9M1431 392l0.0 1.0M1432 403l0.0 1.0M1432 414l0.0 1.0M1442 420l-0.0 1.0M1442 431l-0.0 1.0M1428 562l-0.2 1.0M1425 573l-0.2 1.0M1423 583l-0.2 1.0M1420 594l-0.2 1.0M68 246l0.2 -1.0M71 235l0.3 -1.0M74 225l0.3 -1.0M1375 121l0.4 0.9M1380 131l0.4 0.9M1442 397l0.0 1.0M1442 408l0.0 1.0M1435 578l-0.2 1.0M1432 589l-0.2 1.0M1430 599l-0.3 1.0M1427 610l-0.3 1.0M58 241l0.3 -1.0M61 230l0.3 -1.0M64 219l0.3 -1.0M1447 573l-0.2 1.0M1444 583l-0.2 1.0M1442 594l-0.2 1.0M1439 605l-0.3 1.0M1436 615l-0.3 1.0M46 246l0.2 -1.0M49 235l0.3 -1.0M52 225l0.3 -1.0M1459 567l-0.2 1.0M1456 578l-0.2 1.0M1454 589l-0.2 1.0M1451 600l-0.2 1.0M1449 610l-0.3 1.0M1446 621l-0.3 1.0M34 251l0.2 -1.0M37 240l0.2 -1.0M39 230l0.3 -1.0M1471 562l-0.2 1.0M1468 573l-0.2 1.0M1466 583l-0.2 1.0M1463 594l-0.2 1.0M1461 605l-0.3 1.0M1458 616l-0.3 1.0M22 257l0.2 -1.0M25 246l0.2 -1.0M27 235l0.3 -1.0M30 224l0.3 -1.0M1480 567l-0.2 1.0M1478 578l-0.2 1.0M1476 589l-0.2 1.0M1473 600l-0.2 1.0M1470 610l-0.3 1.0M12 251l0.2 -1.0M15 240l0.2 -1.0M18 230l0.3 -1.0M21 219l0.3 -1.0M24 208l0.3 -1.0M1490 573l-0.2 1.0M1487 584l-0.2 1.0M1485 594l-0.2 1.0M1482 605l-0.2 1.0M1480 616l-0.3 1.0M6 235l0.2 -1.0M8 224l0.3 -1.0M11 214l0.3 -1.0M14 203l0.3 -1.0M18 193l0.3 -1.0M21 182l0.3 -0.9M24 172l0.3 -0.9M28 161l0.3 -0.9M32 151l0.4 -0.9M36 141l0.4 -0.9M40 130l0.4 -0.9M44 120l0.4 -0.9M49 110l0.4 -0.9M53 100l0.4 -0.9M1492 610l-0.2 1.0M1489 621l-0.3 1.0M1486 632l-0.3 1.0M1483 642l-0.3 1.0M40 105l0.4 -0.9M44 95l0.4 -0.9M1492 648l-0.3 1.0M1489 658l-0.3 1.0M35 90l0.4 -0.9M1491 684l-0.3 0.9M26 84l0.4 -0.9M12 89l0.4 -0.9M17 79l0.4 -0.9M3 84l0.4 -0.9M-6 79l0.4 -0.9M-5 28l0.5 -0.9M0 19l0.5 -0.9M5 9l0.5 -0.9M11 -1l0.5 -0.9"/><path stroke-width="4.5" d="M184 742l-0.6 -1.0M179 732l-0.5 -1.0M173 722l-0.5 -1.0M168 713l-0.5 -1.0M98 404l0.0 -1.1M99 393l0.0 -1.1M99 382l0.1 -1.1M100 371l0.1 -1.1M1334 157l0.5 1.0M1338 167l0.4 1.0M1342 177l0.4 1.0M1347 188l0.4 1.1M1350 198l0.4 1.1M1354 208l0.4 1.1M1358 219l0.3 1.1M1361 229l0.3 1.1M1384 337l0.1 1.1M1386 348l0.1 1.1M1387 359l0.1 1.1M1388 370l0.1 1.1M1389 381l0.1 1.1M1389 392l0.0 1.1M192 775l-0.6 -0.9M186 766l-0.6 -1.0M181 757l-0.6 -1.0M175 747l-0.6 -1.0M170 737l-0.5 -1.0M164 728l-0.5 -1.0M159 718l-0.5 -1.0M121 626l-0.4 -1.1M118 616l-0.3 -1.1M114 605l-0.3 -1.1M111 595l-0.3 -1.1M109 584l-0.3 -1.1M101 552l-0.2 -1.1M99 541l-0.2 -1.1M97 530l-0.2 -1.1M95 519l-0.2 -1.1M94 508l-0.2 -1.1M88 399l0.0 -1.1M89 388l0.1 -1.1M89 376l0.1 -1.1M90 366l0.1 -1.1M91 355l0.1 -1.1M92 344l0.1 -1.1M1343 152l0.5 1.0M1347 162l0.4 1.0M1352 172l0.4 1.0M1374 235l0.3 1.1M1377 245l0.3 1.1M1379 256l0.3 1.1M1382 267l0.3 1.1M1385 277l0.2 1.1M1387 288l0.2 1.1M1389 299l0.2 1.1M1391 310l0.2 1.1M1393 321l0.2 1.1M1394 332l0.2 1.1M1398 364l0.1 1.1M1399 375l0.1 1.1M1399 386l0.1 1.1M195 799l-0.6 -0.9M189 790l-0.6 -0.9M183 781l-0.6 -0.9M177 771l-0.6 -1.0M172 762l-0.6 -1.0M166 752l-0.6 -1.0M161 743l-0.5 -1.0M155 733l-0.5 -1.0M150 723l-0.5 -1.0M119 653l-0.4 -1.1M115 642l-0.4 -1.1M82 503l-0.1 -1.1M81 492l-0.1 -1.1M80 481l-0.1 -1.1M78 393l0.0 -1.1M78 382l0.1 -1.1M79 371l0.1 -1.1M80 360l0.1 -1.1M81 349l0.1 -1.1M82 338l0.1 -1.1M84 327l0.2 -1.1M85 316l0.2 -1.1M1357 157l0.4 1.0M1361 167l0.4 1.0M1410 381l0.1 1.1M1410 392l0.0 1.1M206 831l-0.7 -0.9M199 822l-0.7 -0.9M193 813l-0.7 -0.9M186 804l-0.6 -0.9M157 758l-0.6 -1.0M151 748l-0.5 -1.0M146 738l-0.5 -1.0M141 728l-0.5 -1.0M122 689l-0.4 -1.0M118 678l-0.4 -1.0M114 668l-0.4 -1.0M69 476l-0.1 -1.1M68 465l-0.1 -1.1M68 388l0.1 -1.1M68 376l0.1 -1.1M69 366l0.1 -1.1M70 355l0.1 -1.1M71 344l0.1 -1.1M72 333l0.1 -1.1M74 322l0.2 -1.1M76 311l0.2 -1.1M77 300l0.2 -1.1M80 289l0.2 -1.1M1366 151l0.4 1.0M1370 162l0.4 1.0M1420 375l0.1 1.1M1420 386l0.1 1.1M1429 480l-0.1 1.1M1428 491l-0.1 1.1M1427 502l-0.1 1.1M1425 513l-0.2 1.1M1424 524l-0.2 1.1M196 836l-0.7 -0.9M190 827l-0.7 -0.9M148 763l-0.6 -1.0M142 753l-0.5 -1.0M137 743l-0.5 -1.0M132 734l-0.5 -1.0M127 724l-0.5 -1.0M122 714l-0.5 -1.0M118 704l-0.5 -1.0M113 694l-0.4 -1.0M57 448l-0.0 -1.1M56 437l-0.0 -1.1M57 382l0.1 -1.1M58 371l0.1 -1.1M59 360l0.1 -1.1M60 349l0.1 -1.1M61 338l0.1 -1.1M63 327l0.2 -1.1M64 316l0.2 -1.1M66 305l0.2 -1.1M68 294l0.2 -1.1M70 284l0.2 -1.1M72 273l0.2 -1.1M1292 4l0.7 0.9M1298 13l0.7 0.9M1305 22l0.7 0.9M1311 31l0.6 0.9M1317 40l0.6 0.9M1323 49l0.6 0.9M1329 58l0.6 1.0M1335 68l0.6 1.0M1340 77l0.6 1.0M1346 87l0.5 1.0M1375 146l0.4 1.0M1379 156l0.4 1.0M1383 167l0.4 1.0M1430 370l0.1 1.1M1431 381l0.1 1.1M1442 441l-0.0 1.1M1441 452l-0.1 1.1M1441 464l-0.1 1.1M1435 518l-0.2 1.1M1434 529l-0.2 1.1M1432 540l-0.2 1.1M1430 551l-0.2 1.1M144 778l-0.6 -1.0M139 768l-0.6 -1.0M133 758l-0.5 -1.0M128 749l-0.5 -1.0M123 739l-0.5 -1.0M118 729l-0.5 -1.0M113 719l-0.5 -1.0M46 432l-0.0 -1.1M46 421l-0.0 -1.1M46 410l0.0 -1.1M46 399l0.0 -1.1M47 388l0.1 -1.1M47 376l0.1 -1.1M48 366l0.1 -1.1M49 355l0.1 -1.1M50 344l0.1 -1.1M51 333l0.1 -1.1M53 322l0.2 -1.1M54 311l0.2 -1.1M56 300l0.2 -1.1M58 289l0.2 -1.1M60 278l0.2 -1.1M63 267l0.2 -1.1M65 257l0.3 -1.1M1301 -1l0.7 0.9M1307 7l0.7 0.9M1360 91l0.5 1.0M1365 101l0.5 1.0M1370 111l0.5 1.0M1384 141l0.4 1.0M1388 151l0.4 1.0M1393 161l0.4 1.0M1440 364l0.1 1.1M1441 375l0.1 1.1M1441 386l0.1 1.1M1453 425l-0.0 1.1M1443 535l-0.2 1.1M1442 546l-0.2 1.1M1440 556l-0.2 1.1M1437 567l-0.2 1.1M141 792l-0.6 -1.0M135 783l-0.6 -1.0M130 773l-0.6 -1.0M124 764l-0.5 -1.0M119 754l-0.5 -1.0M114 744l-0.5 -1.0M35 404l0.0 -1.1M36 393l0.0 -1.1M36 382l0.1 -1.1M37 371l0.1 -1.1M38 360l0.1 -1.1M39 349l0.1 -1.1M40 338l0.1 -1.1M41 327l0.1 -1.1M43 316l0.2 -1.1M45 305l0.2 -1.1M46 294l0.2 -1.1M48 284l0.2 -1.1M51 273l0.2 -1.1M53 262l0.3 -1.1M56 251l0.3 -1.1M1384 116l0.5 1.0M1389 126l0.5 1.0M1393 136l0.5 1.0M1398 146l0.4 1.0M1402 156l0.4 1.0M1406 166l0.4 1.1M1450 359l0.1 1.1M1451 370l0.1 1.1M1452 381l0.1 1.1M1452 392l0.0 1.1M1453 403l0.0 1.1M1453 414l0.0 1.1M1453 540l-0.2 1.1M1451 551l-0.2 1.1M1449 562l-0.2 1.1M138 807l-0.6 -0.9M132 797l-0.6 -1.0M126 788l-0.6 -1.0M120 779l-0.6 -1.0M25 388l0.1 -1.1M26 376l0.1 -1.1M27 366l0.1 -1.1M28 355l0.1 -1.1M29 344l0.1 -1.1M30 333l0.1 -1.1M32 322l0.2 -1.1M33 311l0.2 -1.1M35 300l0.2 -1.1M37 289l0.2 -1.1M39 278l0.2 -1.1M41 267l0.2 -1.1M44 257l0.3 -1.1M1407 140l0.4 1.0M1411 151l0.4 1.0M1415 161l0.4 1.0M1460 353l0.1 1.1M1461 364l0.1 1.1M1462 375l0.1 1.1M1462 386l0.1 1.1M1465 535l-0.2 1.1M1463 546l-0.2 1.1M1461 556l-0.2 1.1M147 840l-0.6 -0.9M141 830l-0.6 -0.9M134 821l-0.6 -0.9M129 812l-0.6 -0.9M16 371l0.1 -1.1M17 360l0.1 -1.1M18 349l0.1 -1.1M19 338l0.1 -1.1M20 327l0.1 -1.1M22 316l0.2 -1.1M23 305l0.2 -1.1M25 294l0.2 -1.1M27 284l0.2 -1.1M29 273l0.2 -1.1M32 262l0.2 -1.1M1476 529l-0.2 1.1M1474 540l-0.2 1.1M1473 551l-0.2 1.1M8 344l0.1 -1.1M9 333l0.1 -1.1M10 322l0.2 -1.1M12 311l0.2 -1.1M14 300l0.2 -1.1M15 289l0.2 -1.1M17 278l0.2 -1.1M20 267l0.2 -1.1M1488 524l-0.2 1.1M1486 535l-0.2 1.1M1484 546l-0.2 1.1M1482 556l-0.2 1.1M0 316l0.2 -1.1M2 305l0.2 -1.1M4 294l0.2 -1.1M6 284l0.2 -1.1M8 273l0.2 -1.1M10 262l0.2 -1.1M1494 551l-0.2 1.1M1492 562l-0.2 1.1M-6 289l0.2 -1.1M-4 278l0.2 -1.1M-2 267l0.2 -1.1M1 257l0.2 -1.1M3 246l0.3 -1.1M-4 230l0.3 -1.1M-1 219l0.3 -1.1M2 208l0.3 -1.1M5 198l0.3 -1.1M8 187l0.3 -1.1M12 177l0.4 -1.1M15 166l0.4 -1.1M19 156l0.4 -1.1M23 146l0.4 -1.1M27 135l0.4 -1.0M31 125l0.4 -1.0M35 115l0.4 -1.0M22 120l0.4 -1.0M26 110l0.4 -1.0M30 100l0.5 -1.0M17 104l0.4 -1.0M21 94l0.5 -1.0M3 109l0.4 -1.0M8 99l0.5 -1.0M-6 104l0.4 -1.0M-2 94l0.5 -1.0M-4 4l0.5 -1.0"/><path stroke-width="5.0" d="M106 574l-0.3 -1.2M103 563l-0.3 -1.2M1356 182l0.5 1.2M1360 193l0.4 1.2M1363 203l0.4 1.2M1367 213l0.4 1.2M1370 224l0.4 1.2M1396 342l0.1 1.2M1397 353l0.1 1.2M112 632l-0.4 -1.2M108 621l-0.4 -1.2M105 611l-0.4 -1.2M102 600l-0.3 -1.2M89 547l-0.2 -1.2M87 536l-0.2 -1.2M86 525l-0.2 -1.2M84 514l-0.2 -1.2M1365 177l0.5 1.2M1369 187l0.4 1.2M1373 198l0.4 1.2M1376 208l0.4 1.2M1380 219l0.4 1.2M1383 229l0.4 1.2M1386 240l0.3 1.2M1389 250l0.3 1.2M1392 261l0.3 1.2M1394 272l0.3 1.2M1396 283l0.3 1.2M1399 293l0.2 1.2M1401 304l0.2 1.2M1402 315l0.2 1.2M1404 326l0.2 1.2M1406 337l0.2 1.2M1407 348l0.1 1.2M1408 359l0.1 1.2M1409 370l0.1 1.2M180 795l-0.7 -1.0M174 786l-0.7 -1.1M168 777l-0.7 -1.1M162 767l-0.6 -1.1M110 658l-0.4 -1.2M106 648l-0.4 -1.2M71 498l-0.1 -1.2M70 487l-0.1 -1.2M1374 172l0.5 1.2M1378 182l0.4 1.2M1382 192l0.4 1.2M1417 342l0.1 1.2M1418 353l0.1 1.2M1419 364l0.1 1.2M183 818l-0.7 -1.0M177 809l-0.7 -1.0M171 800l-0.7 -1.0M165 791l-0.7 -1.1M159 782l-0.7 -1.1M153 772l-0.6 -1.1M109 684l-0.5 -1.2M105 674l-0.5 -1.2M58 470l-0.1 -1.2M57 459l-0.1 -1.2M1387 177l0.4 1.2M1391 187l0.4 1.2M1428 348l0.1 1.2M1429 359l0.1 1.2M1440 474l-0.1 1.2M1439 485l-0.1 1.2M1438 496l-0.1 1.2M1437 507l-0.2 1.2M187 842l-0.8 -1.0M181 833l-0.7 -1.0M174 824l-0.7 -1.0M168 815l-0.7 -1.0M162 806l-0.7 -1.0M156 796l-0.7 -1.1M150 787l-0.7 -1.1M108 709l-0.5 -1.1M104 699l-0.5 -1.1M47 454l-0.1 -1.2M46 443l-0.0 -1.2M1314 16l0.7 1.0M1320 25l0.7 1.0M1326 34l0.7 1.0M1332 44l0.7 1.1M1338 53l0.7 1.1M1344 62l0.6 1.1M1349 72l0.6 1.1M1355 82l0.6 1.1M1397 171l0.4 1.2M1400 182l0.4 1.2M1438 342l0.1 1.2M1439 353l0.1 1.2M1453 436l-0.0 1.2M1452 447l-0.0 1.2M1452 458l-0.1 1.2M1451 469l-0.1 1.2M1450 480l-0.1 1.2M1449 491l-0.1 1.2M1448 502l-0.1 1.2M1447 513l-0.2 1.2M1445 524l-0.2 1.2M172 838l-0.7 -1.0M165 829l-0.7 -1.0M159 820l-0.7 -1.0M153 811l-0.7 -1.0M147 802l-0.7 -1.1M109 734l-0.6 -1.1M104 725l-0.5 -1.1M35 426l-0.0 -1.2M35 415l0.0 -1.2M1316 2l0.7 1.0M1323 11l0.7 1.0M1329 20l0.7 1.0M1335 29l0.7 1.0M1369 86l0.6 1.1M1374 96l0.6 1.1M1379 106l0.6 1.1M1410 176l0.4 1.2M1413 187l0.4 1.2M1446 326l0.2 1.2M1448 337l0.1 1.2M1449 348l0.1 1.2M1463 419l-0.0 1.2M1458 507l-0.2 1.2M1457 518l-0.2 1.2M1455 529l-0.2 1.2M162 843l-0.7 -1.0M156 834l-0.7 -1.0M150 825l-0.7 -1.0M144 816l-0.7 -1.0M115 769l-0.6 -1.1M110 759l-0.6 -1.1M105 750l-0.6 -1.1M25 410l0.0 -1.2M25 399l0.0 -1.2M1326 -3l0.7 1.0M1332 6l0.7 1.0M1338 15l0.7 1.0M1393 110l0.5 1.1M1398 120l0.5 1.1M1402 130l0.5 1.1M1419 171l0.4 1.2M1423 181l0.4 1.2M1426 192l0.4 1.2M1456 320l0.2 1.2M1458 331l0.2 1.2M1459 342l0.1 1.2M1463 397l0.0 1.2M1463 408l0.0 1.2M1468 513l-0.2 1.2M1466 524l-0.2 1.2M123 803l-0.7 -1.1M117 793l-0.6 -1.1M111 784l-0.6 -1.1M106 774l-0.6 -1.1M15 393l0.0 -1.2M15 382l0.1 -1.2M1341 0l0.7 1.0M1347 9l0.7 1.0M1416 135l0.5 1.2M1420 145l0.5 1.2M1424 155l0.5 1.2M1428 166l0.4 1.2M1432 176l0.4 1.2M1435 187l0.4 1.2M1439 197l0.4 1.2M1442 208l0.4 1.2M1464 304l0.2 1.2M1466 315l0.2 1.2M1468 326l0.2 1.2M1469 337l0.1 1.2M1470 348l0.1 1.2M1471 359l0.1 1.2M1472 370l0.1 1.2M1473 381l0.1 1.2M1473 392l0.0 1.2M1479 507l-0.1 1.2M1478 518l-0.2 1.2M132 836l-0.7 -1.0M125 827l-0.7 -1.0M119 817l-0.7 -1.1M114 808l-0.7 -1.1M108 799l-0.6 -1.1M6 366l0.1 -1.2M7 355l0.1 -1.2M1350 -5l0.7 1.0M1356 4l0.7 1.0M1363 13l0.7 1.0M1441 171l0.4 1.2M1445 181l0.4 1.2M1448 192l0.4 1.2M1451 202l0.4 1.2M1474 299l0.2 1.2M1476 310l0.2 1.2M1478 320l0.2 1.2M1479 331l0.1 1.2M1480 342l0.1 1.2M1481 353l0.1 1.2M1490 502l-0.1 1.2M1489 513l-0.2 1.2M122 841l-0.7 -1.0M116 832l-0.7 -1.0M-3 349l0.1 -1.2M-2 338l0.1 -1.2M-1 327l0.2 -1.2M1366 -1l0.7 1.0M1372 8l0.7 1.0M1375 -6l0.7 1.0M1381 3l0.7 1.0M1387 12l0.7 1.1M1390 -2l0.7 1.0M1396 7l0.7 1.1M-4 193l0.4 -1.2M-1 182l0.4 -1.2M2 172l0.4 -1.2M6 161l0.4 -1.2M10 151l0.4 -1.2M13 140l0.4 -1.2M17 130l0.5 -1.2M0 145l0.4 -1.2M4 135l0.5 -1.2M8 125l0.5 -1.2M12 115l0.5 -1.2M-5 130l0.5 -1.2M-1 120l0.5 -1.2"/><path stroke-width="5.5" d="M99 590l-0.3 -1.3M96 579l-0.3 -1.3M94 568l-0.3 -1.3M92 558l-0.3 -1.3M103 637l-0.4 -1.3M99 627l-0.4 -1.3M96 616l-0.4 -1.3M93 606l-0.4 -1.3M78 541l-0.2 -1.4M76 530l-0.2 -1.4M74 520l-0.2 -1.4M73 509l-0.2 -1.4M1385 203l0.4 1.3M1389 213l0.4 1.3M1392 224l0.4 1.3M1395 234l0.4 1.3M1398 245l0.4 1.3M1401 256l0.3 1.3M1404 266l0.3 1.3M1406 277l0.3 1.3M1408 288l0.3 1.3M1410 299l0.2 1.4M1412 310l0.2 1.4M1414 320l0.2 1.4M1415 331l0.2 1.4M101 663l-0.5 -1.3M97 653l-0.5 -1.3M60 492l-0.1 -1.4M59 481l-0.1 -1.4M1395 197l0.4 1.3M1398 208l0.4 1.3M1402 218l0.4 1.3M1405 229l0.4 1.3M1408 240l0.4 1.3M1410 250l0.3 1.3M1413 261l0.3 1.3M1416 272l0.3 1.3M1418 282l0.3 1.3M1420 293l0.3 1.4M1422 304l0.2 1.4M1424 315l0.2 1.4M1425 326l0.2 1.4M1427 337l0.2 1.4M100 689l-0.5 -1.3M47 465l-0.1 -1.4M1404 192l0.4 1.3M1408 203l0.4 1.3M1411 213l0.4 1.3M1414 224l0.4 1.3M1432 299l0.2 1.4M1433 310l0.2 1.4M1435 320l0.2 1.4M1437 331l0.2 1.4M99 715l-0.6 -1.3M36 448l-0.1 -1.4M35 437l-0.0 -1.4M1341 38l0.7 1.2M1347 48l0.7 1.2M1353 57l0.7 1.2M1358 67l0.7 1.2M1364 76l0.7 1.2M1417 197l0.4 1.3M1420 208l0.4 1.3M1423 218l0.4 1.3M1426 229l0.4 1.3M1439 282l0.3 1.3M1441 293l0.2 1.4M1443 304l0.2 1.4M1445 315l0.2 1.4M1463 430l-0.0 1.4M1463 441l-0.0 1.4M1463 452l-0.1 1.4M1462 463l-0.1 1.4M1461 474l-0.1 1.4M1460 485l-0.1 1.4M1459 496l-0.1 1.4M100 740l-0.6 -1.2M25 421l-0.0 -1.4M1344 24l0.8 1.1M1350 33l0.7 1.2M1356 42l0.7 1.2M1378 81l0.6 1.2M1383 90l0.6 1.2M1388 100l0.6 1.2M1430 202l0.4 1.3M1433 213l0.4 1.3M1436 223l0.4 1.3M1439 234l0.4 1.3M1442 245l0.3 1.3M1444 255l0.3 1.3M1447 266l0.3 1.3M1449 277l0.3 1.3M1451 288l0.3 1.4M1453 299l0.2 1.4M1455 310l0.2 1.4M1470 491l-0.1 1.4M1469 502l-0.2 1.4M101 765l-0.6 -1.2M96 755l-0.6 -1.2M14 404l0.0 -1.4M1353 19l0.8 1.1M1359 28l0.7 1.2M1407 115l0.6 1.2M1411 125l0.6 1.3M1445 218l0.4 1.3M1448 229l0.4 1.3M1451 239l0.3 1.3M1454 250l0.3 1.3M1456 261l0.3 1.3M1458 272l0.3 1.3M1461 282l0.3 1.4M1463 293l0.2 1.4M1474 403l0.0 1.4M1474 414l0.0 1.4M1481 485l-0.1 1.4M1480 496l-0.1 1.4M102 789l-0.7 -1.2M97 780l-0.7 -1.2M4 388l0.1 -1.4M5 377l0.1 -1.4M1369 23l0.7 1.2M1374 32l0.7 1.2M1429 140l0.5 1.3M1433 150l0.5 1.3M1437 160l0.5 1.3M1455 213l0.4 1.3M1458 223l0.4 1.3M1460 234l0.3 1.3M1463 245l0.3 1.3M1466 255l0.3 1.3M1468 266l0.3 1.3M1470 277l0.3 1.3M1472 288l0.2 1.4M1482 364l0.1 1.4M1483 375l0.1 1.4M1483 386l0.1 1.4M1492 480l-0.1 1.4M1491 491l-0.1 1.4M110 823l-0.7 -1.2M105 813l-0.7 -1.2M99 804l-0.7 -1.2M-4 360l0.1 -1.4M1378 17l0.7 1.2M1383 27l0.7 1.2M1450 165l0.5 1.3M1454 176l0.4 1.3M1457 186l0.4 1.3M1461 197l0.4 1.3M1464 207l0.4 1.3M1467 218l0.4 1.3M1470 229l0.3 1.3M1473 239l0.3 1.3M1475 250l0.3 1.3M1478 261l0.3 1.3M1480 272l0.3 1.3M1482 282l0.3 1.4M1484 293l0.2 1.4M1486 304l0.2 1.4M1487 315l0.2 1.4M1489 326l0.2 1.4M1490 337l0.2 1.4M1491 348l0.1 1.4M107 837l-0.8 -1.2M9 617l-0.4 -1.3M6 606l-0.3 -1.3M3 595l-0.3 -1.3M1 585l-0.3 -1.3M-2 574l-0.3 -1.3M-4 563l-0.3 -1.4M-6 552l-0.2 -1.4M1393 21l0.7 1.2M1398 31l0.7 1.2M1473 202l0.4 1.3M1476 213l0.4 1.3M1479 223l0.4 1.3M1482 234l0.3 1.3M1485 245l0.3 1.3M1487 255l0.3 1.3M1490 266l0.3 1.3M1492 277l0.3 1.4M1494 288l0.2 1.4M1402 16l0.7 1.2M1407 26l0.7 1.2M1405 2l0.7 1.2M1411 11l0.7 1.2M1416 20l0.7 1.2M1422 30l0.7 1.2M-3 156l0.5 -1.3M1414 -4l0.7 1.2M1420 6l0.7 1.2M1426 15l0.7 1.2M1431 25l0.7 1.2"/><path stroke-width="6.0" d="M90 595l-0.4 -1.4M87 584l-0.4 -1.5M84 574l-0.3 -1.5M82 563l-0.3 -1.5M80 552l-0.3 -1.5M93 643l-0.5 -1.4M90 632l-0.5 -1.4M86 622l-0.4 -1.4M83 611l-0.4 -1.4M80 601l-0.4 -1.4M78 590l-0.4 -1.5M75 579l-0.3 -1.5M72 568l-0.3 -1.5M70 558l-0.3 -1.5M68 547l-0.3 -1.5M66 536l-0.3 -1.5M64 525l-0.2 -1.5M63 514l-0.2 -1.5M61 503l-0.2 -1.5M96 679l-0.6 -1.4M92 669l-0.5 -1.4M88 658l-0.5 -1.4M50 498l-0.2 -1.5M49 487l-0.1 -1.5M48 476l-0.1 -1.5M1417 234l0.4 1.4M1420 245l0.4 1.5M1423 255l0.4 1.5M1425 266l0.3 1.5M1427 277l0.3 1.5M1430 288l0.3 1.5M95 705l-0.6 -1.4M91 694l-0.6 -1.4M37 470l-0.1 -1.5M36 459l-0.1 -1.5M1429 239l0.4 1.5M1432 250l0.4 1.5M1435 261l0.3 1.5M1437 272l0.3 1.5M95 730l-0.6 -1.4M90 720l-0.6 -1.4M25 443l-0.0 -1.5M25 432l-0.0 -1.5M1362 52l0.8 1.3M1367 61l0.7 1.3M1373 71l0.7 1.3M1474 425l-0.0 1.5M1474 436l-0.0 1.5M1473 447l-0.1 1.5M1473 458l-0.1 1.5M1472 469l-0.1 1.5M1471 480l-0.1 1.5M91 745l-0.7 -1.3M37 601l-0.4 -1.5M34 590l-0.3 -1.5M32 579l-0.3 -1.5M30 569l-0.3 -1.5M27 558l-0.3 -1.5M14 426l-0.0 -1.5M14 415l0.0 -1.5M1365 37l0.8 1.3M1371 47l0.8 1.3M1377 56l0.7 1.3M1382 66l0.7 1.3M1387 75l0.7 1.3M1392 85l0.7 1.3M1397 95l0.7 1.3M1402 105l0.6 1.4M1484 419l-0.0 1.5M1483 463l-0.1 1.5M1482 474l-0.1 1.5M92 770l-0.7 -1.3M33 627l-0.4 -1.4M30 617l-0.4 -1.4M28 606l-0.4 -1.5M25 595l-0.4 -1.5M22 585l-0.3 -1.5M20 574l-0.3 -1.5M18 563l-0.3 -1.5M16 552l-0.3 -1.5M14 541l-0.2 -1.5M12 531l-0.2 -1.5M4 399l0.0 -1.5M1380 41l0.8 1.3M1386 51l0.7 1.3M1416 110l0.6 1.4M1421 120l0.6 1.4M1425 130l0.6 1.4M1484 397l0.0 1.5M1484 408l0.0 1.5M1493 469l-0.1 1.5M93 794l-0.7 -1.3M27 643l-0.4 -1.4M24 633l-0.4 -1.4M21 622l-0.4 -1.4M18 611l-0.4 -1.5M15 601l-0.4 -1.5M13 590l-0.3 -1.5M10 579l-0.3 -1.5M8 569l-0.3 -1.5M6 558l-0.3 -1.5M4 547l-0.3 -1.5M2 536l-0.2 -1.5M1 525l-0.2 -1.5M-1 514l-0.2 -1.5M-6 382l0.1 -1.5M-5 371l0.1 -1.5M1389 36l0.8 1.3M1395 46l0.7 1.3M1438 135l0.6 1.4M1442 145l0.5 1.4M1446 155l0.5 1.4M1492 359l0.1 1.5M1493 370l0.1 1.5M1494 381l0.1 1.5M101 828l-0.8 -1.3M95 819l-0.8 -1.3M25 670l-0.5 -1.4M21 659l-0.5 -1.4M18 649l-0.4 -1.4M15 638l-0.4 -1.4M12 627l-0.4 -1.4M1404 40l0.7 1.3M1460 160l0.5 1.4M1463 170l0.5 1.4M1467 181l0.5 1.4M1470 191l0.4 1.4M98 842l-0.8 -1.3M23 696l-0.5 -1.4M19 685l-0.5 -1.4M16 675l-0.5 -1.4M12 664l-0.5 -1.4M9 654l-0.5 -1.4M5 643l-0.4 -1.4M2 633l-0.4 -1.4M-1 622l-0.4 -1.4M-4 612l-0.4 -1.5M1413 35l0.7 1.3M1418 45l0.7 1.3M1486 207l0.4 1.4M1489 218l0.4 1.4M1492 228l0.4 1.5M18 711l-0.6 -1.4M14 701l-0.5 -1.4M10 691l-0.5 -1.4M6 680l-0.5 -1.4M3 670l-0.5 -1.4M-1 659l-0.5 -1.4M-4 649l-0.4 -1.4M1427 39l0.7 1.3M1433 49l0.7 1.3M13 727l-0.6 -1.4M9 716l-0.6 -1.4M5 706l-0.5 -1.4M1 696l-0.5 -1.4M-3 686l-0.5 -1.4M1437 34l0.7 1.3M1442 44l0.7 1.3M13 752l-0.6 -1.4M8 742l-0.6 -1.4M4 732l-0.6 -1.4M-0 722l-0.6 -1.4M-5 711l-0.5 -1.4M1429 0l0.8 1.3M1435 10l0.8 1.3M1440 19l0.7 1.3M1446 29l0.7 1.3M1451 39l0.7 1.3M1456 48l0.7 1.3M8 767l-0.6 -1.4M3 757l-0.6 -1.4M-1 747l-0.6 -1.4M-5 737l-0.6 -1.4M1449 14l0.7 1.3M1455 24l0.7 1.3M1460 33l0.7 1.3M1465 43l0.7 1.3M1470 53l0.7 1.3M9 792l-0.7 -1.3M4 783l-0.7 -1.3M-1 773l-0.6 -1.4M-6 763l-0.6 -1.4M1474 38l0.7 1.3M1479 48l0.7 1.3M1484 57l0.7 1.3M1489 67l0.6 1.4M5 807l-0.7 -1.3M-0 798l-0.7 -1.3M-5 788l-0.7 -1.3M1488 42l0.7 1.3M1493 52l0.7 1.3M6 832l-0.7 -1.3M1 822l-0.7 -1.3M-4 813l-0.7 -1.3M-3 837l-0.7 -1.3"/><path stroke-width="6.5" d="M84 648l-0.5 -1.5M81 638l-0.5 -1.5M77 627l-0.5 -1.6M74 617l-0.5 -1.6M71 606l-0.4 -1.6M68 595l-0.4 -1.6M65 585l-0.4 -1.6M63 574l-0.4 -1.6M61 563l-0.3 -1.6M58 552l-0.3 -1.6M56 541l-0.3 -1.6M55 531l-0.3 -1.6M53 520l-0.2 -1.6M51 509l-0.2 -1.6M86 684l-0.6 -1.5M82 674l-0.6 -1.5M78 664l-0.6 -1.5M75 653l-0.5 -1.5M71 643l-0.5 -1.5M68 632l-0.5 -1.6M65 622l-0.5 -1.6M62 611l-0.4 -1.6M59 601l-0.4 -1.6M56 590l-0.4 -1.6M53 579l-0.4 -1.6M51 569l-0.3 -1.6M49 558l-0.3 -1.6M47 547l-0.3 -1.6M45 536l-0.3 -1.6M43 525l-0.2 -1.6M42 514l-0.2 -1.6M40 503l-0.2 -1.6M39 492l-0.2 -1.6M38 481l-0.1 -1.6M86 710l-0.7 -1.5M81 700l-0.6 -1.5M59 638l-0.5 -1.5M55 627l-0.5 -1.6M52 617l-0.4 -1.6M49 606l-0.4 -1.6M46 595l-0.4 -1.6M44 585l-0.4 -1.6M41 574l-0.3 -1.6M39 563l-0.3 -1.6M37 552l-0.3 -1.6M35 541l-0.3 -1.6M33 531l-0.2 -1.6M32 520l-0.2 -1.6M30 509l-0.2 -1.6M29 498l-0.2 -1.6M28 487l-0.1 -1.6M27 476l-0.1 -1.6M26 465l-0.1 -1.6M26 454l-0.1 -1.6M86 735l-0.7 -1.5M81 725l-0.7 -1.5M49 643l-0.5 -1.5M46 633l-0.5 -1.6M43 622l-0.4 -1.6M40 611l-0.4 -1.6M25 547l-0.3 -1.6M24 536l-0.3 -1.6M22 525l-0.2 -1.6M20 514l-0.2 -1.6M19 503l-0.2 -1.6M15 448l-0.1 -1.6M14 437l-0.0 -1.6M1484 430l-0.0 1.6M1484 441l-0.0 1.6M1484 452l-0.1 1.6M87 760l-0.7 -1.4M82 750l-0.7 -1.5M43 659l-0.5 -1.5M40 648l-0.5 -1.5M37 638l-0.5 -1.6M10 520l-0.2 -1.6M9 509l-0.2 -1.6M8 498l-0.2 -1.6M4 421l-0.0 -1.6M4 410l0.0 -1.6M1391 60l0.8 1.4M1396 70l0.8 1.4M1401 80l0.7 1.4M1406 90l0.7 1.5M1411 100l0.7 1.5M1494 458l-0.1 1.6M88 785l-0.8 -1.4M83 775l-0.8 -1.4M38 675l-0.5 -1.5M34 664l-0.5 -1.5M31 654l-0.5 -1.5M-2 503l-0.2 -1.6M-3 492l-0.2 -1.6M1400 55l0.8 1.4M1405 65l0.8 1.4M1430 114l0.7 1.5M1434 124l0.6 1.5M90 809l-0.8 -1.4M84 800l-0.8 -1.4M32 690l-0.6 -1.5M29 680l-0.6 -1.5M1409 50l0.8 1.4M1414 60l0.8 1.4M1452 139l0.6 1.5M1456 150l0.6 1.5M92 833l-0.9 -1.4M86 824l-0.8 -1.4M27 706l-0.6 -1.5M1424 54l0.8 1.4M1429 64l0.7 1.4M1472 165l0.5 1.5M1476 176l0.5 1.5M1479 186l0.5 1.5M1483 197l0.5 1.6M26 732l-0.6 -1.5M22 721l-0.6 -1.5M1438 59l0.7 1.4M22 747l-0.7 -1.5M17 737l-0.6 -1.5M1447 53l0.7 1.4M1452 63l0.7 1.5M22 772l-0.7 -1.5M17 762l-0.7 -1.5M1461 58l0.7 1.5M1466 68l0.7 1.5M18 787l-0.7 -1.5M13 777l-0.7 -1.5M1438 -5l0.8 1.4M1444 4l0.8 1.4M1475 63l0.7 1.5M1480 73l0.7 1.5M1484 83l0.7 1.5M19 812l-0.8 -1.4M14 802l-0.8 -1.4M1458 9l0.8 1.4M1464 18l0.8 1.4M1469 28l0.8 1.4M1494 77l0.7 1.5M15 827l-0.8 -1.4M10 817l-0.8 -1.4M1478 23l0.8 1.4M1483 32l0.8 1.4M11 842l-0.8 -1.4"/><path stroke-width="7.0" d="M77 690l-0.7 -1.6M73 679l-0.6 -1.6M69 669l-0.6 -1.6M66 659l-0.6 -1.7M62 648l-0.6 -1.7M77 715l-0.7 -1.6M72 705l-0.7 -1.6M68 695l-0.7 -1.6M64 685l-0.6 -1.6M60 674l-0.6 -1.6M56 664l-0.6 -1.6M53 654l-0.6 -1.7M18 492l-0.2 -1.7M17 481l-0.1 -1.7M16 470l-0.1 -1.7M15 459l-0.1 -1.7M77 741l-0.8 -1.6M72 731l-0.7 -1.6M55 690l-0.6 -1.6M51 680l-0.6 -1.6M47 669l-0.6 -1.6M7 487l-0.2 -1.7M6 476l-0.1 -1.7M5 465l-0.1 -1.7M5 454l-0.1 -1.7M4 443l-0.1 -1.7M4 432l-0.0 -1.7M77 766l-0.8 -1.6M72 756l-0.8 -1.6M46 695l-0.6 -1.6M42 685l-0.6 -1.6M-4 481l-0.1 -1.7M-5 470l-0.1 -1.7M-6 459l-0.1 -1.7M1411 74l0.8 1.6M1416 84l0.8 1.6M1420 94l0.8 1.6M1425 104l0.7 1.6M79 790l-0.8 -1.5M41 711l-0.7 -1.6M36 701l-0.6 -1.6M1420 69l0.8 1.6M1425 79l0.8 1.6M1429 89l0.8 1.6M1434 99l0.7 1.6M1439 109l0.7 1.6M1443 119l0.7 1.6M1447 129l0.7 1.6M81 815l-0.9 -1.5M36 726l-0.7 -1.6M31 716l-0.7 -1.6M1434 74l0.8 1.6M1465 144l0.6 1.6M1469 155l0.6 1.6M83 839l-0.9 -1.5M31 742l-0.7 -1.6M1443 69l0.8 1.6M1448 78l0.8 1.6M1489 181l0.5 1.7M1492 191l0.5 1.7M31 767l-0.8 -1.6M26 757l-0.7 -1.6M1457 73l0.8 1.6M27 782l-0.8 -1.6M1471 78l0.7 1.6M1475 88l0.7 1.6M28 807l-0.8 -1.5M23 797l-0.8 -1.6M1489 93l0.7 1.6M24 822l-0.9 -1.5M1453 -1l0.9 1.5M21 837l-0.9 -1.5M1467 3l0.9 1.5M1473 13l0.9 1.5M1487 17l0.8 1.5M1492 27l0.8 1.6"/><path stroke-width="7.5" d="M68 721l-0.8 -1.7M63 710l-0.7 -1.7M59 700l-0.7 -1.7M68 746l-0.8 -1.7M63 736l-0.8 -1.7M58 726l-0.8 -1.7M54 716l-0.7 -1.7M50 706l-0.7 -1.7M74 781l-0.9 -1.7M68 771l-0.9 -1.7M63 761l-0.8 -1.7M59 751l-0.8 -1.7M54 741l-0.8 -1.7M49 731l-0.8 -1.7M45 721l-0.7 -1.7M75 805l-0.9 -1.6M70 796l-0.9 -1.6M45 746l-0.8 -1.7M40 736l-0.8 -1.7M1439 84l0.8 1.7M1443 94l0.8 1.7M1448 104l0.8 1.7M1452 114l0.7 1.7M1457 124l0.7 1.7M1461 134l0.7 1.7M77 829l-1.0 -1.6M72 820l-1.0 -1.6M40 762l-0.8 -1.7M36 752l-0.8 -1.7M1452 88l0.8 1.7M1457 98l0.8 1.7M1474 139l0.7 1.8M1478 149l0.6 1.8M1482 160l0.6 1.8M1485 170l0.6 1.8M41 787l-0.9 -1.7M36 777l-0.8 -1.7M1462 83l0.8 1.7M1466 93l0.8 1.7M37 802l-0.9 -1.7M32 792l-0.9 -1.7M1480 98l0.8 1.7M33 817l-0.9 -1.6M1493 103l0.7 1.7M35 841l-1.0 -1.6M30 831l-0.9 -1.6M1462 -6l1.0 1.6M1476 -2l0.9 1.6M1482 8l0.9 1.6"/><path stroke-width="8.0" d="M65 786l-0.9 -1.8M59 776l-0.9 -1.8M54 766l-0.9 -1.8M49 756l-0.9 -1.8M66 810l-1.0 -1.7M61 801l-1.0 -1.7M55 791l-0.9 -1.8M50 781l-0.9 -1.8M45 772l-0.9 -1.8M1461 108l0.8 1.8M1466 118l0.8 1.8M1470 129l0.7 1.9M68 835l-1.0 -1.7M63 825l-1.0 -1.7M57 816l-1.0 -1.7M52 806l-1.0 -1.7M46 796l-0.9 -1.8M1471 103l0.8 1.8M1475 113l0.8 1.8M1479 123l0.7 1.9M1483 134l0.7 1.9M1487 144l0.7 1.9M1491 154l0.7 1.9M59 840l-1.0 -1.7M54 830l-1.0 -1.7M48 821l-1.0 -1.7M43 811l-1.0 -1.7M1484 108l0.8 1.8M1488 118l0.7 1.9M1492 128l0.7 1.9M44 836l-1.0 -1.7M39 826l-1.0 -1.7M1491 2l1.0 1.7"/></g></svg></div>
<svg width="1488" height="837" style="position:absolute;left:0;top:0"><line x1="532.5" y1="147" x2="532.5" y2="642" stroke="#3a3a3a" stroke-width="1" stroke-dasharray="2 1.75"/><circle cx="532.5" cy="146.6" r="3" fill="#000"/><line x1="752.2" y1="147" x2="752.2" y2="642" stroke="#3a3a3a" stroke-width="1" stroke-dasharray="2 1.75"/><circle cx="752.2" cy="146.6" r="3" fill="#000"/><line x1="971.5" y1="147" x2="971.5" y2="642" stroke="#3a3a3a" stroke-width="1" stroke-dasharray="2 1.75"/><circle cx="971.5" cy="146.6" r="3" fill="#000"/><line x1="1191" y1="147" x2="1191" y2="642" stroke="#3a3a3a" stroke-width="1" stroke-dasharray="2 1.75"/><circle cx="1191" cy="146.6" r="3" fill="#000"/><line x1="1410.5" y1="147" x2="1410.5" y2="642" stroke="#3a3a3a" stroke-width="1" stroke-dasharray="2 1.75"/><circle cx="1410.5" cy="146.6" r="3" fill="#000"/></svg>
<div class="bar l" style="left:324px;top:161.2px;width:287.2px;height:46.8px"></div><div class="bar d" style="left:324px;top:211.7px;width:974.7px;height:47.3px"></div><div class="bar l" style="left:324px;top:287.2px;width:298.6px;height:46.7px"></div><div class="bar d" style="left:324px;top:338.2px;width:427.1px;height:46.5px"></div><div class="bar l" style="left:324px;top:413.1px;width:121.7px;height:46.7px"></div><div class="bar d" style="left:324px;top:464.1px;width:147.7px;height:46.6px"></div><div class="bar l" style="left:324px;top:532.9px;width:184.0px;height:46.1px"></div><div class="bar d" style="left:324px;top:584.8px;width:184.0px;height:46.7px"></div>
<svg width="1488" height="837" style="position:absolute;left:0;top:0"><path d="M313.2 152 V642.8 H1447" fill="none" stroke="#000" stroke-width="1.9" stroke-linejoin="round"/><circle cx="313.3" cy="152.1" r="5.6" fill="#000"/><circle cx="1447" cy="642.8" r="5.6" fill="#000"/><line x1="378" y1="152.25" x2="378" y2="637" stroke="#f7941d" stroke-width="5" stroke-linecap="round" stroke-dasharray="3.5 11.53"/></svg>
<div class="sq" style="left:47.5px;background:#6199cd"></div>
<div class="sq" style="left:510.3px;background:#1f3e79"></div>
<div class="sq" style="left:1028.5px;background:#f7941d"></div>
<div class="t" id="t1" style="left:144.62px;top:37.43px;font-size:48.40px;transform:scaleX(0.9763);-webkit-text-stroke:0.6px #000;">MEDIAN</div><div class="t" id="t2" style="left:339.20px;top:37.43px;font-size:48.40px;transform:scaleX(0.8993);-webkit-text-stroke:0.6px #000;">INCREASE</div><div class="t" id="t3" style="left:574.16px;top:37.43px;font-size:48.40px;transform:scaleX(0.9890);-webkit-text-stroke:0.6px #000;">IN</div><div class="t" id="t4" style="left:633.63px;top:37.43px;font-size:48.40px;transform:scaleX(0.8873);-webkit-text-stroke:0.6px #000;">RETIREMENT</div><div class="t" id="t5" style="left:923.59px;top:37.43px;font-size:48.40px;transform:scaleX(0.9153);-webkit-text-stroke:0.6px #000;">SAVINGS</div><div class="t" id="t6" style="left:1128.03px;top:37.43px;font-size:48.40px;transform:scaleX(0.9471);-webkit-text-stroke:0.6px #000;">BALANCE</div><div class="t" id="c1" style="left:102.00px;top:215.63px;font-size:25.60px;transform:scaleX(0.9972);">GRAD SCHOOL</div><div class="t" id="c2" style="left:68.56px;top:326.93px;font-size:25.60px;transform:scaleX(0.9407);">COLLEGE DEGREE</div><div class="t" id="c3" style="left:92.50px;top:439.53px;font-size:25.60px;transform:scaleX(0.9700);">SOME COLLEGE</div><div class="t" id="c4" style="left:31.54px;top:551.93px;font-size:25.60px;transform:scaleX(0.9964);">HIGH SCHOOL GRAD</div><div class="t" id="v1" style="left:620.97px;top:166.13px;font-size:36.00px;transform:scaleX(0.9302);font-style:italic;-webkit-text-stroke:0.3px #fcfcf9;">$62,500</div><div class="t" id="v2" style="left:1307.03px;top:215.83px;font-size:36.00px;transform:scaleX(0.9364);font-style:italic;-webkit-text-stroke:0.3px #fcfcf9;">$220,000</div><div class="t" id="v3" style="left:633.52px;top:292.23px;font-size:36.00px;transform:scaleX(0.8796);font-style:italic;-webkit-text-stroke:0.3px #fcfcf9;">$67,500</div><div class="t" id="v4" style="left:762.50px;top:342.13px;font-size:36.00px;transform:scaleX(0.9096);font-style:italic;-webkit-text-stroke:0.3px #fcfcf9;">$100,000</div><div class="t" id="v5" style="left:456.50px;top:419.33px;font-size:36.00px;transform:scaleX(0.9260);font-style:italic;-webkit-text-stroke:0.3px #fcfcf9;">$24,000</div><div class="t" id="v6" style="left:485.00px;top:468.83px;font-size:36.00px;transform:scaleX(0.9307);font-style:italic;-webkit-text-stroke:0.3px #fcfcf9;">$30,500</div><div class="t" id="v7" style="left:517.48px;top:537.13px;font-size:36.00px;transform:scaleX(0.8875);font-style:italic;-webkit-text-stroke:0.3px #fcfcf9;">$42,100</div><div class="t" id="v8" style="left:517.51px;top:588.43px;font-size:36.00px;transform:scaleX(0.9345);font-style:italic;-webkit-text-stroke:0.3px #fcfcf9;">$42,000</div><div class="t" id="a0" style="left:308.14px;top:665.23px;font-size:29.50px;transform:scaleX(0.8587);-webkit-text-stroke:0.35px #000;">0</div><div class="t" id="a1" style="left:488.53px;top:665.23px;font-size:29.50px;transform:scaleX(0.8077);-webkit-text-stroke:0.35px #000;">$50,000</div><div class="t" id="a2" style="left:710.00px;top:665.23px;font-size:29.50px;transform:scaleX(0.7980);-webkit-text-stroke:0.35px #000;">$100,000</div><div class="t" id="a3" style="left:932.48px;top:665.23px;font-size:29.50px;transform:scaleX(0.7894);-webkit-text-stroke:0.35px #000;">$150,000</div><div class="t" id="a4" style="left:1154.00px;top:665.23px;font-size:29.50px;transform:scaleX(0.8114);-webkit-text-stroke:0.35px #000;">$200,000</div><div class="t" id="a5" style="left:1356.01px;top:665.23px;font-size:29.50px;transform:scaleX(0.8114);-webkit-text-stroke:0.35px #000;">$250,000</div><div class="t" id="l1" style="left:96.63px;top:758.79px;font-size:28.60px;transform:scaleX(0.6890);-webkit-text-stroke:0.3px #000;text-shadow:0.8px 0 0 #000;">BALANCE INCREASE FOR BORROWERS</div><div class="t" id="l2" style="left:560.11px;top:758.79px;font-size:28.60px;transform:scaleX(0.6965);-webkit-text-stroke:0.3px #000;text-shadow:0.8px 0 0 #000;">BALANCE INCREASE FOR NON-BORROWERS</div><div class="t" id="l3" style="left:1078.27px;top:758.79px;font-size:28.60px;transform:scaleX(0.7253);-webkit-text-stroke:0.3px #000;text-shadow:0.8px 0 0 #000;">LESS THAN HIGH SCHOOL: $17,000</div><div class="t" id="src" style="left:3.41px;top:814.04px;font-size:19.80px;transform:scaleX(0.9073);">SOURCE: 2011-2019 PANEL STUDY OF INCOME DYNAMICS</div>
</body></html>
